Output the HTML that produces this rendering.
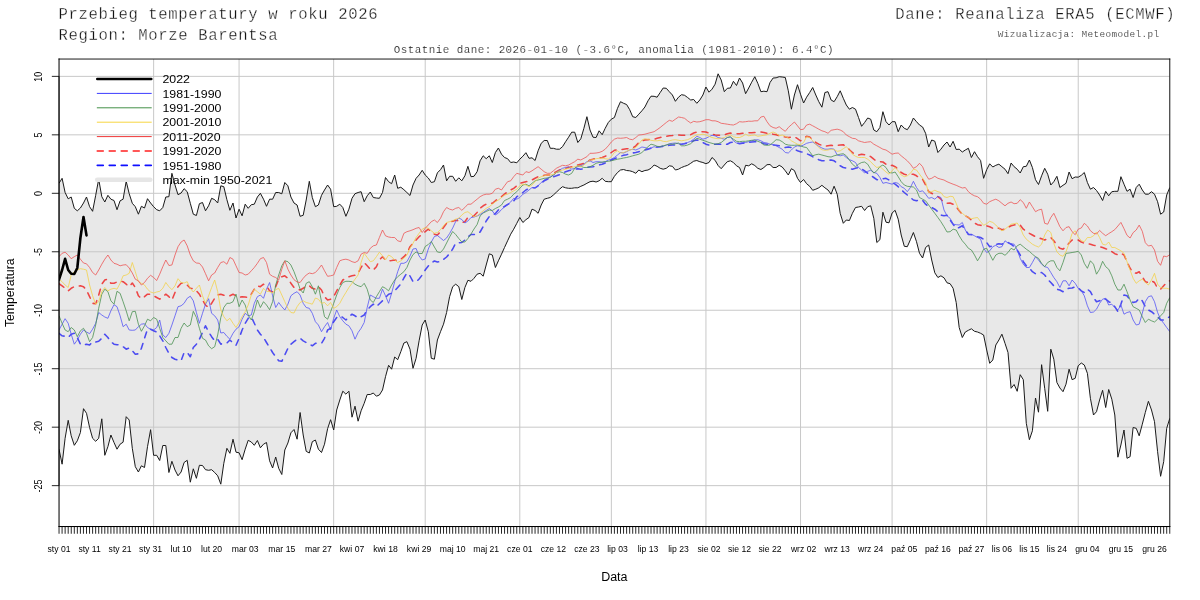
<!DOCTYPE html>
<html lang="pl"><head><meta charset="utf-8"><title>Przebieg temperatury w roku 2026 - Morze Barentsa</title>
<style>
html,body{margin:0;padding:0;background:#fff;}
body{width:1200px;height:600px;overflow:hidden;}
svg{display:block;}
.mono{font-family:"Liberation Mono","DejaVu Sans Mono",monospace;stroke:#fff;stroke-width:0.3px;}
.m2{stroke-width:0.2px;}
.m3{stroke-width:0.12px;}
.sans{font-family:"Liberation Sans","DejaVu Sans",sans-serif;}
</style></head><body>
<svg width="1200" height="600" viewBox="0 0 1200 600">
<rect x="0" y="0" width="1200" height="600" fill="#ffffff"/>
<defs><clipPath id="pc"><rect x="59.04" y="59.04" width="1110.72" height="467.52"/></clipPath></defs>
<g clip-path="url(#pc)">
<polygon points="59.0,183.3 62.1,178.3 65.1,192.5 68.2,198.8 71.2,197.0 74.3,208.3 77.3,210.8 80.4,208.0 83.5,203.0 86.5,197.0 89.6,206.7 92.6,211.3 95.7,195.3 98.7,179.2 101.8,196.7 104.8,202.0 107.9,195.3 110.9,199.2 114.0,200.5 117.0,209.7 120.1,200.8 123.1,199.2 126.2,181.3 129.2,193.7 132.3,203.3 135.3,206.7 138.4,214.2 141.4,206.3 144.5,208.0 147.5,198.7 150.6,203.0 153.6,206.7 156.7,209.7 159.7,210.8 162.8,207.5 165.8,197.0 168.9,196.7 171.9,173.3 175.0,185.0 178.0,194.7 181.1,193.0 184.1,188.7 187.2,191.7 190.3,203.3 193.3,214.2 196.4,215.5 199.4,203.7 202.5,202.5 205.5,210.8 208.6,205.8 211.6,198.3 214.7,199.7 217.7,203.0 220.8,185.8 223.8,186.7 226.9,199.7 229.9,210.3 233.0,203.0 236.0,218.0 239.1,209.2 242.1,215.8 245.2,204.2 248.2,208.3 251.3,204.7 254.3,204.2 257.4,197.0 260.4,193.3 263.5,199.2 266.5,206.3 269.6,199.2 272.6,199.2 275.7,192.5 278.7,192.5 281.8,193.8 284.8,182.5 287.9,185.8 290.9,197.0 294.0,203.0 297.1,205.0 300.1,216.3 303.2,215.3 306.2,200.0 309.3,181.3 312.3,197.5 315.4,206.7 318.4,205.0 321.5,195.3 324.5,190.0 327.6,185.0 330.6,189.2 333.7,206.7 336.7,206.3 339.8,204.2 342.8,207.5 345.9,216.3 348.9,209.2 352.0,198.3 355.0,193.7 358.1,192.5 361.1,191.7 364.2,201.7 367.2,195.8 370.3,192.0 373.3,197.5 376.4,198.0 379.4,198.3 382.5,192.5 385.5,177.5 388.6,181.7 391.6,183.7 394.7,175.0 397.7,188.3 400.8,187.2 403.9,189.7 406.9,192.5 410.0,195.5 413.0,185.0 416.1,178.3 419.1,175.0 422.2,170.3 425.2,175.0 428.3,178.0 431.3,182.5 434.4,181.7 437.4,172.8 440.5,169.7 443.5,165.0 446.6,180.8 449.6,176.3 452.7,176.3 455.7,181.3 458.8,177.8 461.8,180.8 464.9,175.8 467.9,166.3 471.0,176.7 474.0,176.3 477.1,171.7 480.1,160.8 483.2,155.8 486.2,158.7 489.3,155.8 492.3,162.5 495.4,152.5 498.4,148.0 501.5,154.2 504.5,157.5 507.6,158.7 510.7,162.5 513.7,162.0 516.8,162.8 519.8,159.2 522.9,156.2 525.9,152.7 529.0,158.3 532.0,157.8 535.1,160.5 538.1,150.8 541.2,143.3 544.2,140.5 547.3,140.5 550.3,148.3 553.4,148.3 556.4,149.2 559.5,149.2 562.5,146.7 565.6,141.7 568.6,137.2 571.7,132.2 574.7,132.2 577.8,142.5 580.8,138.8 583.9,128.3 586.9,116.7 590.0,130.0 593.0,137.2 596.1,137.5 599.1,130.8 602.2,134.7 605.2,128.3 608.3,122.5 611.3,119.2 614.4,117.5 617.5,108.3 620.5,101.7 623.6,103.3 626.6,104.5 629.7,109.7 632.7,116.7 635.8,117.5 638.8,114.2 641.9,110.8 644.9,107.0 648.0,100.8 651.0,96.2 654.1,96.3 657.1,97.2 660.2,92.5 663.2,88.0 666.3,88.3 669.3,91.7 672.4,95.0 675.4,101.3 678.5,97.2 681.5,94.7 684.6,95.3 687.6,97.5 690.7,100.0 693.7,99.5 696.8,103.3 699.8,100.0 702.9,95.0 705.9,87.0 709.0,92.2 712.0,89.2 715.1,84.2 718.1,73.8 721.2,80.0 724.3,91.7 727.3,88.3 730.4,88.0 733.4,81.3 736.5,85.5 739.5,78.0 742.6,83.0 745.6,93.7 748.7,88.0 751.7,82.2 754.8,76.7 757.8,83.3 760.9,91.7 763.9,91.2 767.0,91.7 770.0,82.5 773.1,78.0 776.1,77.8 779.2,76.7 782.2,77.0 785.3,77.5 788.3,90.8 791.4,109.2 794.4,95.0 797.5,84.7 800.5,94.2 803.6,103.0 806.6,97.2 809.7,92.5 812.7,87.5 815.8,95.0 818.8,101.7 821.9,107.2 824.9,92.5 828.0,91.7 831.1,100.0 834.1,101.7 837.2,96.7 840.2,90.8 843.3,98.3 846.3,105.0 849.4,109.2 852.4,107.5 855.5,109.2 858.5,117.5 861.6,126.3 864.6,122.5 867.7,118.0 870.7,119.2 873.8,130.0 876.8,131.7 879.9,127.5 882.9,111.7 886.0,121.7 889.0,125.0 892.1,121.7 895.1,121.7 898.2,131.7 901.2,125.0 904.3,128.3 907.3,129.7 910.4,125.0 913.4,118.0 916.5,121.7 919.5,125.0 922.6,127.0 925.6,133.3 928.7,147.0 931.7,140.0 934.8,141.2 937.9,152.5 940.9,149.2 944.0,145.0 947.0,142.0 950.1,147.0 953.1,141.3 956.2,149.5 959.2,149.2 962.3,152.0 965.3,150.0 968.4,148.3 971.4,157.5 974.5,151.7 977.5,156.7 980.6,160.5 983.6,178.3 986.7,169.7 989.7,163.8 992.8,167.0 995.8,165.3 998.9,164.2 1001.9,166.7 1005.0,169.2 1008.0,173.7 1011.1,163.0 1014.1,166.7 1017.2,169.2 1020.2,173.0 1023.3,166.7 1026.3,166.3 1029.4,160.0 1032.4,167.5 1035.5,179.7 1038.5,184.5 1041.6,175.8 1044.7,168.3 1047.7,174.2 1050.8,185.0 1053.8,181.7 1056.9,176.3 1059.9,187.5 1063.0,185.3 1066.0,183.3 1069.1,172.0 1072.1,178.7 1075.2,177.0 1078.2,177.2 1081.3,175.3 1084.3,172.5 1087.4,182.5 1090.4,189.2 1093.5,187.5 1096.5,190.5 1099.6,195.0 1102.6,200.5 1105.7,191.3 1108.7,195.8 1111.8,191.7 1114.8,191.3 1117.9,191.3 1120.9,176.7 1124.0,184.2 1127.0,191.3 1130.1,189.2 1133.1,197.5 1136.2,187.5 1139.2,184.2 1142.3,190.0 1145.3,194.2 1148.4,194.2 1151.5,191.7 1154.5,194.2 1157.6,201.7 1160.6,214.2 1163.7,212.0 1166.7,195.0 1169.8,187.5 1169.8,418.3 1166.7,428.3 1163.7,461.7 1160.6,476.3 1157.6,451.7 1154.5,421.7 1151.5,410.0 1148.4,401.3 1145.3,412.5 1142.3,424.2 1139.2,435.8 1136.2,428.3 1133.1,427.5 1130.1,456.7 1127.0,458.3 1124.0,430.0 1120.9,445.0 1117.9,457.2 1114.8,415.0 1111.8,399.2 1108.7,389.5 1105.7,407.5 1102.6,390.3 1099.6,400.0 1096.5,411.7 1093.5,415.0 1090.4,398.3 1087.4,373.3 1084.3,365.0 1081.3,363.0 1078.2,365.8 1075.2,378.3 1072.1,379.7 1069.1,369.2 1066.0,384.2 1063.0,391.7 1059.9,388.0 1056.9,382.5 1053.8,359.2 1050.8,349.2 1047.7,411.3 1044.7,388.3 1041.6,364.7 1038.5,412.2 1035.5,398.0 1032.4,430.8 1029.4,439.7 1026.3,423.3 1023.3,379.7 1020.2,374.7 1017.2,391.3 1014.1,384.5 1011.1,388.3 1008.0,352.5 1005.0,343.3 1001.9,334.2 998.9,340.0 995.8,345.0 992.8,360.0 989.7,363.3 986.7,350.0 983.6,335.0 980.6,333.3 977.5,332.0 974.5,331.3 971.4,328.8 968.4,330.3 965.3,332.0 962.3,337.5 959.2,327.5 956.2,302.5 953.1,288.3 950.1,283.7 947.0,282.8 944.0,277.8 940.9,275.8 937.9,277.5 934.8,272.8 931.7,260.0 928.7,245.0 925.6,247.5 922.6,258.0 919.5,253.3 916.5,241.7 913.4,232.5 910.4,239.7 907.3,246.7 904.3,246.3 901.2,235.0 898.2,219.2 895.1,210.3 892.1,213.0 889.0,222.8 886.0,222.2 882.9,212.2 879.9,239.7 876.8,242.5 873.8,218.3 870.7,205.8 867.7,206.7 864.6,210.5 861.6,206.3 858.5,207.0 855.5,207.5 852.4,213.3 849.4,220.5 846.3,220.0 843.3,223.3 840.2,213.3 837.2,194.2 834.1,186.2 831.1,194.2 828.0,190.0 824.9,187.8 821.9,185.3 818.8,187.8 815.8,189.2 812.7,190.3 809.7,186.3 806.6,183.7 803.6,179.5 800.5,182.5 797.5,178.3 794.4,170.5 791.4,168.7 788.3,175.0 785.3,170.8 782.2,167.0 779.2,165.3 776.1,167.5 773.1,167.5 770.0,164.5 767.0,164.7 763.9,167.5 760.9,169.5 757.8,168.3 754.8,165.5 751.7,163.8 748.7,165.8 745.6,165.3 742.6,175.0 739.5,167.5 736.5,165.8 733.4,162.5 730.4,160.8 727.3,161.7 724.3,165.0 721.2,168.7 718.1,165.5 715.1,160.3 712.0,157.5 709.0,162.5 705.9,163.7 702.9,162.5 699.8,161.7 696.8,160.5 693.7,161.2 690.7,163.3 687.6,165.3 684.6,166.3 681.5,167.5 678.5,169.2 675.4,170.0 672.4,166.3 669.3,165.8 666.3,168.3 663.2,169.2 660.2,168.3 657.1,166.3 654.1,165.0 651.0,168.3 648.0,170.0 644.9,170.5 641.9,171.7 638.8,170.0 635.8,173.3 632.7,171.7 629.7,170.8 626.6,170.5 623.6,169.5 620.5,170.0 617.5,172.5 614.4,176.3 611.3,181.7 608.3,181.7 605.2,181.3 602.2,178.3 599.1,180.8 596.1,182.0 593.0,181.2 590.0,181.7 586.9,183.3 583.9,185.0 580.8,186.3 577.8,187.8 574.7,187.8 571.7,188.3 568.6,188.3 565.6,187.8 562.5,186.7 559.5,189.2 556.4,192.2 553.4,195.0 550.3,197.5 547.3,198.3 544.2,199.2 541.2,205.0 538.1,213.3 535.1,210.5 532.0,209.2 529.0,217.5 525.9,219.7 522.9,222.5 519.8,217.5 516.8,223.3 513.7,229.2 510.7,234.2 507.6,240.8 504.5,247.5 501.5,254.2 498.4,260.8 495.4,267.5 492.3,255.0 489.3,253.8 486.2,265.0 483.2,276.2 480.1,273.3 477.1,274.2 474.0,278.3 471.0,281.3 467.9,280.3 464.9,287.5 461.8,299.5 458.8,286.7 455.7,284.2 452.7,286.7 449.6,296.7 446.6,312.5 443.5,324.2 440.5,331.7 437.4,340.0 434.4,359.2 431.3,358.3 428.3,331.7 425.2,320.0 422.2,325.0 419.1,340.8 416.1,358.3 413.0,368.3 410.0,349.2 406.9,341.7 403.9,343.0 400.8,351.7 397.7,359.7 394.7,357.0 391.6,369.2 388.6,365.3 385.5,376.7 382.5,390.0 379.4,395.0 376.4,396.2 373.3,393.0 370.3,394.5 367.2,394.5 364.2,403.3 361.1,410.8 358.1,421.2 355.0,406.2 352.0,417.2 348.9,391.2 345.9,394.2 342.8,391.2 339.8,400.0 336.7,410.0 333.7,430.0 330.6,419.7 327.6,428.7 324.5,444.2 321.5,452.5 318.4,449.2 315.4,440.0 312.3,441.7 309.3,453.0 306.2,451.3 303.2,435.0 300.1,412.5 297.1,439.2 294.0,429.5 290.9,432.8 287.9,443.0 284.8,450.0 281.8,474.5 278.7,468.3 275.7,457.0 272.6,468.0 269.6,460.8 266.5,442.5 263.5,444.2 260.4,447.8 257.4,440.5 254.3,445.3 251.3,442.0 248.2,440.3 245.2,449.2 242.1,459.7 239.1,452.8 236.0,452.2 233.0,439.2 229.9,453.3 226.9,448.3 223.8,463.3 220.8,484.2 217.7,475.8 214.7,472.5 211.6,469.7 208.6,470.3 205.5,469.7 202.5,465.5 199.4,465.3 196.4,478.3 193.3,468.8 190.3,482.2 187.2,460.3 184.1,462.5 181.1,472.0 178.0,475.8 175.0,470.0 171.9,461.3 168.9,472.5 165.8,445.5 162.8,445.5 159.7,460.5 156.7,455.3 153.6,455.3 150.6,429.7 147.5,446.7 144.5,467.5 141.4,465.8 138.4,472.0 135.3,466.7 132.3,448.3 129.2,420.0 126.2,416.7 123.1,442.2 120.1,444.2 117.0,449.2 114.0,442.5 110.9,435.0 107.9,446.7 104.8,455.3 101.8,418.8 98.7,438.3 95.7,441.3 92.6,438.3 89.6,427.5 86.5,413.3 83.5,408.7 80.4,432.5 77.3,440.8 74.3,445.3 71.2,435.8 68.2,420.3 65.1,438.3 62.1,464.2 59.0,449.2" fill="#e8e8e8" stroke="none"/>
<g stroke="#c8c8c8" stroke-width="1" fill="none"><line x1="153.63" y1="59.04" x2="153.63" y2="526.56"/><line x1="239.07" y1="59.04" x2="239.07" y2="526.56"/><line x1="333.67" y1="59.04" x2="333.67" y2="526.56"/><line x1="425.21" y1="59.04" x2="425.21" y2="526.56"/><line x1="519.81" y1="59.04" x2="519.81" y2="526.56"/><line x1="611.35" y1="59.04" x2="611.35" y2="526.56"/><line x1="705.94" y1="59.04" x2="705.94" y2="526.56"/><line x1="800.54" y1="59.04" x2="800.54" y2="526.56"/><line x1="892.08" y1="59.04" x2="892.08" y2="526.56"/><line x1="986.67" y1="59.04" x2="986.67" y2="526.56"/><line x1="1078.22" y1="59.04" x2="1078.22" y2="526.56"/><line x1="59.04" y1="485.65" x2="1169.76" y2="485.65"/><line x1="59.04" y1="427.18" x2="1169.76" y2="427.18"/><line x1="59.04" y1="368.71" x2="1169.76" y2="368.71"/><line x1="59.04" y1="310.24" x2="1169.76" y2="310.24"/><line x1="59.04" y1="251.77" x2="1169.76" y2="251.77"/><line x1="59.04" y1="193.30" x2="1169.76" y2="193.30"/><line x1="59.04" y1="134.83" x2="1169.76" y2="134.83"/><line x1="59.04" y1="76.36" x2="1169.76" y2="76.36"/></g>
<path d="M59.0 183.3 L62.1 178.3 L65.1 192.5 L68.2 198.8 L71.2 197.0 L74.3 208.3 L77.3 210.8 L80.4 208.0 L83.5 203.0 L86.5 197.0 L89.6 206.7 L92.6 211.3 L95.7 195.3 L98.7 179.2 L101.8 196.7 L104.8 202.0 L107.9 195.3 L110.9 199.2 L114.0 200.5 L117.0 209.7 L120.1 200.8 L123.1 199.2 L126.2 181.3 L129.2 193.7 L132.3 203.3 L135.3 206.7 L138.4 214.2 L141.4 206.3 L144.5 208.0 L147.5 198.7 L150.6 203.0 L153.6 206.7 L156.7 209.7 L159.7 210.8 L162.8 207.5 L165.8 197.0 L168.9 196.7 L171.9 173.3 L175.0 185.0 L178.0 194.7 L181.1 193.0 L184.1 188.7 L187.2 191.7 L190.3 203.3 L193.3 214.2 L196.4 215.5 L199.4 203.7 L202.5 202.5 L205.5 210.8 L208.6 205.8 L211.6 198.3 L214.7 199.7 L217.7 203.0 L220.8 185.8 L223.8 186.7 L226.9 199.7 L229.9 210.3 L233.0 203.0 L236.0 218.0 L239.1 209.2 L242.1 215.8 L245.2 204.2 L248.2 208.3 L251.3 204.7 L254.3 204.2 L257.4 197.0 L260.4 193.3 L263.5 199.2 L266.5 206.3 L269.6 199.2 L272.6 199.2 L275.7 192.5 L278.7 192.5 L281.8 193.8 L284.8 182.5 L287.9 185.8 L290.9 197.0 L294.0 203.0 L297.1 205.0 L300.1 216.3 L303.2 215.3 L306.2 200.0 L309.3 181.3 L312.3 197.5 L315.4 206.7 L318.4 205.0 L321.5 195.3 L324.5 190.0 L327.6 185.0 L330.6 189.2 L333.7 206.7 L336.7 206.3 L339.8 204.2 L342.8 207.5 L345.9 216.3 L348.9 209.2 L352.0 198.3 L355.0 193.7 L358.1 192.5 L361.1 191.7 L364.2 201.7 L367.2 195.8 L370.3 192.0 L373.3 197.5 L376.4 198.0 L379.4 198.3 L382.5 192.5 L385.5 177.5 L388.6 181.7 L391.6 183.7 L394.7 175.0 L397.7 188.3 L400.8 187.2 L403.9 189.7 L406.9 192.5 L410.0 195.5 L413.0 185.0 L416.1 178.3 L419.1 175.0 L422.2 170.3 L425.2 175.0 L428.3 178.0 L431.3 182.5 L434.4 181.7 L437.4 172.8 L440.5 169.7 L443.5 165.0 L446.6 180.8 L449.6 176.3 L452.7 176.3 L455.7 181.3 L458.8 177.8 L461.8 180.8 L464.9 175.8 L467.9 166.3 L471.0 176.7 L474.0 176.3 L477.1 171.7 L480.1 160.8 L483.2 155.8 L486.2 158.7 L489.3 155.8 L492.3 162.5 L495.4 152.5 L498.4 148.0 L501.5 154.2 L504.5 157.5 L507.6 158.7 L510.7 162.5 L513.7 162.0 L516.8 162.8 L519.8 159.2 L522.9 156.2 L525.9 152.7 L529.0 158.3 L532.0 157.8 L535.1 160.5 L538.1 150.8 L541.2 143.3 L544.2 140.5 L547.3 140.5 L550.3 148.3 L553.4 148.3 L556.4 149.2 L559.5 149.2 L562.5 146.7 L565.6 141.7 L568.6 137.2 L571.7 132.2 L574.7 132.2 L577.8 142.5 L580.8 138.8 L583.9 128.3 L586.9 116.7 L590.0 130.0 L593.0 137.2 L596.1 137.5 L599.1 130.8 L602.2 134.7 L605.2 128.3 L608.3 122.5 L611.3 119.2 L614.4 117.5 L617.5 108.3 L620.5 101.7 L623.6 103.3 L626.6 104.5 L629.7 109.7 L632.7 116.7 L635.8 117.5 L638.8 114.2 L641.9 110.8 L644.9 107.0 L648.0 100.8 L651.0 96.2 L654.1 96.3 L657.1 97.2 L660.2 92.5 L663.2 88.0 L666.3 88.3 L669.3 91.7 L672.4 95.0 L675.4 101.3 L678.5 97.2 L681.5 94.7 L684.6 95.3 L687.6 97.5 L690.7 100.0 L693.7 99.5 L696.8 103.3 L699.8 100.0 L702.9 95.0 L705.9 87.0 L709.0 92.2 L712.0 89.2 L715.1 84.2 L718.1 73.8 L721.2 80.0 L724.3 91.7 L727.3 88.3 L730.4 88.0 L733.4 81.3 L736.5 85.5 L739.5 78.0 L742.6 83.0 L745.6 93.7 L748.7 88.0 L751.7 82.2 L754.8 76.7 L757.8 83.3 L760.9 91.7 L763.9 91.2 L767.0 91.7 L770.0 82.5 L773.1 78.0 L776.1 77.8 L779.2 76.7 L782.2 77.0 L785.3 77.5 L788.3 90.8 L791.4 109.2 L794.4 95.0 L797.5 84.7 L800.5 94.2 L803.6 103.0 L806.6 97.2 L809.7 92.5 L812.7 87.5 L815.8 95.0 L818.8 101.7 L821.9 107.2 L824.9 92.5 L828.0 91.7 L831.1 100.0 L834.1 101.7 L837.2 96.7 L840.2 90.8 L843.3 98.3 L846.3 105.0 L849.4 109.2 L852.4 107.5 L855.5 109.2 L858.5 117.5 L861.6 126.3 L864.6 122.5 L867.7 118.0 L870.7 119.2 L873.8 130.0 L876.8 131.7 L879.9 127.5 L882.9 111.7 L886.0 121.7 L889.0 125.0 L892.1 121.7 L895.1 121.7 L898.2 131.7 L901.2 125.0 L904.3 128.3 L907.3 129.7 L910.4 125.0 L913.4 118.0 L916.5 121.7 L919.5 125.0 L922.6 127.0 L925.6 133.3 L928.7 147.0 L931.7 140.0 L934.8 141.2 L937.9 152.5 L940.9 149.2 L944.0 145.0 L947.0 142.0 L950.1 147.0 L953.1 141.3 L956.2 149.5 L959.2 149.2 L962.3 152.0 L965.3 150.0 L968.4 148.3 L971.4 157.5 L974.5 151.7 L977.5 156.7 L980.6 160.5 L983.6 178.3 L986.7 169.7 L989.7 163.8 L992.8 167.0 L995.8 165.3 L998.9 164.2 L1001.9 166.7 L1005.0 169.2 L1008.0 173.7 L1011.1 163.0 L1014.1 166.7 L1017.2 169.2 L1020.2 173.0 L1023.3 166.7 L1026.3 166.3 L1029.4 160.0 L1032.4 167.5 L1035.5 179.7 L1038.5 184.5 L1041.6 175.8 L1044.7 168.3 L1047.7 174.2 L1050.8 185.0 L1053.8 181.7 L1056.9 176.3 L1059.9 187.5 L1063.0 185.3 L1066.0 183.3 L1069.1 172.0 L1072.1 178.7 L1075.2 177.0 L1078.2 177.2 L1081.3 175.3 L1084.3 172.5 L1087.4 182.5 L1090.4 189.2 L1093.5 187.5 L1096.5 190.5 L1099.6 195.0 L1102.6 200.5 L1105.7 191.3 L1108.7 195.8 L1111.8 191.7 L1114.8 191.3 L1117.9 191.3 L1120.9 176.7 L1124.0 184.2 L1127.0 191.3 L1130.1 189.2 L1133.1 197.5 L1136.2 187.5 L1139.2 184.2 L1142.3 190.0 L1145.3 194.2 L1148.4 194.2 L1151.5 191.7 L1154.5 194.2 L1157.6 201.7 L1160.6 214.2 L1163.7 212.0 L1166.7 195.0 L1169.8 187.5" fill="none" stroke="#1a1a1a" stroke-width="1" stroke-linejoin="round"/>
<path d="M59.0 449.2 L62.1 464.2 L65.1 438.3 L68.2 420.3 L71.2 435.8 L74.3 445.3 L77.3 440.8 L80.4 432.5 L83.5 408.7 L86.5 413.3 L89.6 427.5 L92.6 438.3 L95.7 441.3 L98.7 438.3 L101.8 418.8 L104.8 455.3 L107.9 446.7 L110.9 435.0 L114.0 442.5 L117.0 449.2 L120.1 444.2 L123.1 442.2 L126.2 416.7 L129.2 420.0 L132.3 448.3 L135.3 466.7 L138.4 472.0 L141.4 465.8 L144.5 467.5 L147.5 446.7 L150.6 429.7 L153.6 455.3 L156.7 455.3 L159.7 460.5 L162.8 445.5 L165.8 445.5 L168.9 472.5 L171.9 461.3 L175.0 470.0 L178.0 475.8 L181.1 472.0 L184.1 462.5 L187.2 460.3 L190.3 482.2 L193.3 468.8 L196.4 478.3 L199.4 465.3 L202.5 465.5 L205.5 469.7 L208.6 470.3 L211.6 469.7 L214.7 472.5 L217.7 475.8 L220.8 484.2 L223.8 463.3 L226.9 448.3 L229.9 453.3 L233.0 439.2 L236.0 452.2 L239.1 452.8 L242.1 459.7 L245.2 449.2 L248.2 440.3 L251.3 442.0 L254.3 445.3 L257.4 440.5 L260.4 447.8 L263.5 444.2 L266.5 442.5 L269.6 460.8 L272.6 468.0 L275.7 457.0 L278.7 468.3 L281.8 474.5 L284.8 450.0 L287.9 443.0 L290.9 432.8 L294.0 429.5 L297.1 439.2 L300.1 412.5 L303.2 435.0 L306.2 451.3 L309.3 453.0 L312.3 441.7 L315.4 440.0 L318.4 449.2 L321.5 452.5 L324.5 444.2 L327.6 428.7 L330.6 419.7 L333.7 430.0 L336.7 410.0 L339.8 400.0 L342.8 391.2 L345.9 394.2 L348.9 391.2 L352.0 417.2 L355.0 406.2 L358.1 421.2 L361.1 410.8 L364.2 403.3 L367.2 394.5 L370.3 394.5 L373.3 393.0 L376.4 396.2 L379.4 395.0 L382.5 390.0 L385.5 376.7 L388.6 365.3 L391.6 369.2 L394.7 357.0 L397.7 359.7 L400.8 351.7 L403.9 343.0 L406.9 341.7 L410.0 349.2 L413.0 368.3 L416.1 358.3 L419.1 340.8 L422.2 325.0 L425.2 320.0 L428.3 331.7 L431.3 358.3 L434.4 359.2 L437.4 340.0 L440.5 331.7 L443.5 324.2 L446.6 312.5 L449.6 296.7 L452.7 286.7 L455.7 284.2 L458.8 286.7 L461.8 299.5 L464.9 287.5 L467.9 280.3 L471.0 281.3 L474.0 278.3 L477.1 274.2 L480.1 273.3 L483.2 276.2 L486.2 265.0 L489.3 253.8 L492.3 255.0 L495.4 267.5 L498.4 260.8 L501.5 254.2 L504.5 247.5 L507.6 240.8 L510.7 234.2 L513.7 229.2 L516.8 223.3 L519.8 217.5 L522.9 222.5 L525.9 219.7 L529.0 217.5 L532.0 209.2 L535.1 210.5 L538.1 213.3 L541.2 205.0 L544.2 199.2 L547.3 198.3 L550.3 197.5 L553.4 195.0 L556.4 192.2 L559.5 189.2 L562.5 186.7 L565.6 187.8 L568.6 188.3 L571.7 188.3 L574.7 187.8 L577.8 187.8 L580.8 186.3 L583.9 185.0 L586.9 183.3 L590.0 181.7 L593.0 181.2 L596.1 182.0 L599.1 180.8 L602.2 178.3 L605.2 181.3 L608.3 181.7 L611.3 181.7 L614.4 176.3 L617.5 172.5 L620.5 170.0 L623.6 169.5 L626.6 170.5 L629.7 170.8 L632.7 171.7 L635.8 173.3 L638.8 170.0 L641.9 171.7 L644.9 170.5 L648.0 170.0 L651.0 168.3 L654.1 165.0 L657.1 166.3 L660.2 168.3 L663.2 169.2 L666.3 168.3 L669.3 165.8 L672.4 166.3 L675.4 170.0 L678.5 169.2 L681.5 167.5 L684.6 166.3 L687.6 165.3 L690.7 163.3 L693.7 161.2 L696.8 160.5 L699.8 161.7 L702.9 162.5 L705.9 163.7 L709.0 162.5 L712.0 157.5 L715.1 160.3 L718.1 165.5 L721.2 168.7 L724.3 165.0 L727.3 161.7 L730.4 160.8 L733.4 162.5 L736.5 165.8 L739.5 167.5 L742.6 175.0 L745.6 165.3 L748.7 165.8 L751.7 163.8 L754.8 165.5 L757.8 168.3 L760.9 169.5 L763.9 167.5 L767.0 164.7 L770.0 164.5 L773.1 167.5 L776.1 167.5 L779.2 165.3 L782.2 167.0 L785.3 170.8 L788.3 175.0 L791.4 168.7 L794.4 170.5 L797.5 178.3 L800.5 182.5 L803.6 179.5 L806.6 183.7 L809.7 186.3 L812.7 190.3 L815.8 189.2 L818.8 187.8 L821.9 185.3 L824.9 187.8 L828.0 190.0 L831.1 194.2 L834.1 186.2 L837.2 194.2 L840.2 213.3 L843.3 223.3 L846.3 220.0 L849.4 220.5 L852.4 213.3 L855.5 207.5 L858.5 207.0 L861.6 206.3 L864.6 210.5 L867.7 206.7 L870.7 205.8 L873.8 218.3 L876.8 242.5 L879.9 239.7 L882.9 212.2 L886.0 222.2 L889.0 222.8 L892.1 213.0 L895.1 210.3 L898.2 219.2 L901.2 235.0 L904.3 246.3 L907.3 246.7 L910.4 239.7 L913.4 232.5 L916.5 241.7 L919.5 253.3 L922.6 258.0 L925.6 247.5 L928.7 245.0 L931.7 260.0 L934.8 272.8 L937.9 277.5 L940.9 275.8 L944.0 277.8 L947.0 282.8 L950.1 283.7 L953.1 288.3 L956.2 302.5 L959.2 327.5 L962.3 337.5 L965.3 332.0 L968.4 330.3 L971.4 328.8 L974.5 331.3 L977.5 332.0 L980.6 333.3 L983.6 335.0 L986.7 350.0 L989.7 363.3 L992.8 360.0 L995.8 345.0 L998.9 340.0 L1001.9 334.2 L1005.0 343.3 L1008.0 352.5 L1011.1 388.3 L1014.1 384.5 L1017.2 391.3 L1020.2 374.7 L1023.3 379.7 L1026.3 423.3 L1029.4 439.7 L1032.4 430.8 L1035.5 398.0 L1038.5 412.2 L1041.6 364.7 L1044.7 388.3 L1047.7 411.3 L1050.8 349.2 L1053.8 359.2 L1056.9 382.5 L1059.9 388.0 L1063.0 391.7 L1066.0 384.2 L1069.1 369.2 L1072.1 379.7 L1075.2 378.3 L1078.2 365.8 L1081.3 363.0 L1084.3 365.0 L1087.4 373.3 L1090.4 398.3 L1093.5 415.0 L1096.5 411.7 L1099.6 400.0 L1102.6 390.3 L1105.7 407.5 L1108.7 389.5 L1111.8 399.2 L1114.8 415.0 L1117.9 457.2 L1120.9 445.0 L1124.0 430.0 L1127.0 458.3 L1130.1 456.7 L1133.1 427.5 L1136.2 428.3 L1139.2 435.8 L1142.3 424.2 L1145.3 412.5 L1148.4 401.3 L1151.5 410.0 L1154.5 421.7 L1157.6 451.7 L1160.6 476.3 L1163.7 461.7 L1166.7 428.3 L1169.8 418.3" fill="none" stroke="#1a1a1a" stroke-width="1" stroke-linejoin="round"/>
<path d="M59.0 333.3 L62.1 335.8 L65.1 336.3 L68.2 337.5 L71.2 334.2 L74.3 333.3 L77.3 337.5 L80.4 344.2 L83.5 345.3 L86.5 344.2 L89.6 345.0 L92.6 341.7 L95.7 342.0 L98.7 341.3 L101.8 338.3 L104.8 334.2 L107.9 337.5 L110.9 341.7 L114.0 344.2 L117.0 344.7 L120.1 345.0 L123.1 346.7 L126.2 349.2 L129.2 348.0 L132.3 350.8 L135.3 354.2 L138.4 353.8 L141.4 348.3 L144.5 338.3 L147.5 329.2 L150.6 329.2 L153.6 330.8 L156.7 332.0 L159.7 335.8 L162.8 340.8 L165.8 347.5 L168.9 353.3 L171.9 357.5 L175.0 359.2 L178.0 360.0 L181.1 360.8 L184.1 352.5 L187.2 352.5 L190.3 356.7 L193.3 347.5 L196.4 344.2 L199.4 339.2 L202.5 332.5 L205.5 325.8 L208.6 331.7 L211.6 336.7 L214.7 340.8 L217.7 339.2 L220.8 344.2 L223.8 343.0 L226.9 343.0 L229.9 340.0 L233.0 343.0 L236.0 345.3 L239.1 338.3 L242.1 330.0 L245.2 323.3 L248.2 318.3 L251.3 316.7 L254.3 323.3 L257.4 330.0 L260.4 334.2 L263.5 337.5 L266.5 342.5 L269.6 347.5 L272.6 352.5 L275.7 356.7 L278.7 360.8 L281.8 361.3 L284.8 355.0 L287.9 348.3 L290.9 344.2 L294.0 341.7 L297.1 339.2 L300.1 338.3 L303.2 340.8 L306.2 342.5 L309.3 344.2 L312.3 345.8 L315.4 343.3 L318.4 343.3 L321.5 343.3 L324.5 338.3 L327.6 330.0 L330.6 328.3 L333.7 321.7 L336.7 317.5 L339.8 315.8 L342.8 317.5 L345.9 320.0 L348.9 316.7 L352.0 314.2 L355.0 315.8 L358.1 318.0 L361.1 316.7 L364.2 315.0 L367.2 310.0 L370.3 306.7 L373.3 304.2 L376.4 306.7 L379.4 303.7 L382.5 300.8 L385.5 297.5 L388.6 294.2 L391.6 293.3 L394.7 290.8 L397.7 287.5 L400.8 284.0 L403.9 278.0 L406.9 273.0 L410.0 276.0 L413.0 281.5 L416.1 281.8 L419.1 279.0 L422.2 275.0 L425.2 270.0 L428.3 266.0 L431.3 263.0 L434.4 261.0 L437.4 262.0 L440.5 261.5 L443.5 259.5 L446.6 257.0 L449.6 253.5 L452.7 249.0 L455.7 243.0 L458.8 242.8 L461.8 242.5 L464.9 240.0 L467.9 237.0 L471.0 234.5 L474.0 234.5 L477.1 234.0 L480.1 232.0 L483.2 226.5 L486.2 221.0 L489.3 216.5 L492.3 215.5 L495.4 213.5 L498.4 210.0 L501.5 208.0 L504.5 206.5 L507.6 204.5 L510.7 203.0 L513.7 201.0 L516.8 196.7 L519.8 195.0 L522.9 192.5 L525.9 190.0 L529.0 188.3 L532.0 187.5 L535.1 188.0 L538.1 185.8 L541.2 183.3 L544.2 180.8 L547.3 179.2 L550.3 178.0 L553.4 176.7 L556.4 175.8 L559.5 174.7 L562.5 173.3 L565.6 171.7 L568.6 170.8 L571.7 170.0 L574.7 169.2 L577.8 168.7 L580.8 169.2 L583.9 168.7 L586.9 167.5 L590.0 167.0 L593.0 166.7 L596.1 165.8 L599.1 165.0 L602.2 164.2 L605.2 163.0 L608.3 161.7 L611.3 160.0 L614.4 158.7 L617.5 157.5 L620.5 156.3 L623.6 155.3 L626.6 154.7 L629.7 153.7 L632.7 153.0 L635.8 152.5 L638.8 151.7 L641.9 150.8 L644.9 150.0 L648.0 149.2 L651.0 148.3 L654.1 147.5 L657.1 147.0 L660.2 146.7 L663.2 146.3 L666.3 145.8 L669.3 145.3 L672.4 145.0 L675.4 145.0 L678.5 144.7 L681.5 144.2 L684.6 143.7 L687.6 143.0 L690.7 142.0 L693.7 140.8 L696.8 140.0 L699.8 140.8 L702.9 142.5 L705.9 144.2 L709.0 145.0 L712.0 144.7 L715.1 144.2 L718.1 144.2 L721.2 144.2 L724.3 144.7 L727.3 144.2 L730.4 142.5 L733.4 142.0 L736.5 143.0 L739.5 143.7 L742.6 143.3 L745.6 143.0 L748.7 142.5 L751.7 142.0 L754.8 141.7 L757.8 141.7 L760.9 142.5 L763.9 143.7 L767.0 144.2 L770.0 144.7 L773.1 145.0 L776.1 145.3 L779.2 145.8 L782.2 146.7 L785.3 147.5 L788.3 147.0 L791.4 147.5 L794.4 149.2 L797.5 150.8 L800.5 151.7 L803.6 152.5 L806.6 153.7 L809.7 155.0 L812.7 156.7 L815.8 158.3 L818.8 159.7 L821.9 160.8 L824.9 160.8 L828.0 160.3 L831.1 160.0 L834.1 160.8 L837.2 163.3 L840.2 165.8 L843.3 167.5 L846.3 168.0 L849.4 168.3 L852.4 169.2 L855.5 168.3 L858.5 167.5 L861.6 168.7 L864.6 170.8 L867.7 173.3 L870.7 175.3 L873.8 177.5 L876.8 179.7 L879.9 180.0 L882.9 178.7 L886.0 178.3 L889.0 180.0 L892.1 182.5 L895.1 184.2 L898.2 186.7 L901.2 189.7 L904.3 192.5 L907.3 195.0 L910.4 197.5 L913.4 200.0 L916.5 200.8 L919.5 199.7 L922.6 200.3 L925.6 204.2 L928.7 206.7 L931.7 207.5 L934.8 209.2 L937.9 211.7 L940.9 215.0 L944.0 215.8 L947.0 215.3 L950.1 220.0 L953.1 224.2 L956.2 228.3 L959.2 227.5 L962.3 225.8 L965.3 230.0 L968.4 234.2 L971.4 234.7 L974.5 235.8 L977.5 236.7 L980.6 237.5 L983.6 239.2 L986.7 242.5 L989.7 246.7 L992.8 245.8 L995.8 244.7 L998.9 243.7 L1001.9 244.2 L1005.0 242.5 L1008.0 242.5 L1011.1 244.2 L1014.1 246.7 L1017.2 250.0 L1020.2 255.0 L1023.3 261.7 L1026.3 265.8 L1029.4 268.0 L1032.4 271.7 L1035.5 273.7 L1038.5 273.3 L1041.6 272.5 L1044.7 275.0 L1047.7 279.2 L1050.8 282.5 L1053.8 285.8 L1056.9 289.2 L1059.9 290.0 L1063.0 291.7 L1066.0 289.2 L1069.1 288.3 L1072.1 288.0 L1075.2 286.7 L1078.2 288.0 L1081.3 290.8 L1084.3 292.5 L1087.4 289.2 L1090.4 291.7 L1093.5 297.5 L1096.5 301.7 L1099.6 300.8 L1102.6 298.3 L1105.7 299.2 L1108.7 301.7 L1111.8 303.3 L1114.8 306.7 L1117.9 311.7 L1120.9 304.2 L1124.0 295.0 L1127.0 295.8 L1130.1 300.0 L1133.1 302.5 L1136.2 301.7 L1139.2 298.3 L1142.3 300.8 L1145.3 306.7 L1148.4 310.0 L1151.5 311.7 L1154.5 314.2 L1157.6 316.7 L1160.6 320.0 L1163.7 320.0 L1166.7 318.3 L1169.8 316.7" fill="none" stroke="#0000f5" stroke-width="1.55" stroke-linejoin="round" stroke-linecap="round" stroke-dasharray="6 6" stroke-opacity="0.68"/>
<path d="M59.0 283.7 L62.1 285.8 L65.1 288.3 L68.2 290.8 L71.2 288.3 L74.3 286.7 L77.3 286.2 L80.4 285.8 L83.5 286.7 L86.5 290.0 L89.6 296.7 L92.6 303.3 L95.7 303.8 L98.7 295.0 L101.8 284.2 L104.8 280.0 L107.9 279.2 L110.9 283.3 L114.0 283.3 L117.0 282.0 L120.1 281.3 L123.1 281.7 L126.2 284.2 L129.2 286.7 L132.3 283.0 L135.3 287.5 L138.4 295.8 L141.4 298.7 L144.5 296.7 L147.5 294.2 L150.6 294.2 L153.6 295.8 L156.7 297.5 L159.7 299.2 L162.8 296.7 L165.8 294.2 L168.9 296.7 L171.9 300.0 L175.0 292.5 L178.0 286.7 L181.1 283.3 L184.1 283.0 L187.2 285.0 L190.3 288.3 L193.3 288.7 L196.4 290.8 L199.4 294.2 L202.5 300.0 L205.5 305.0 L208.6 307.5 L211.6 303.3 L214.7 298.3 L217.7 295.0 L220.8 294.2 L223.8 295.3 L226.9 295.8 L229.9 295.8 L233.0 294.2 L236.0 295.8 L239.1 297.5 L242.1 296.7 L245.2 297.0 L248.2 297.5 L251.3 294.2 L254.3 289.2 L257.4 285.8 L260.4 286.7 L263.5 284.2 L266.5 285.8 L269.6 290.8 L272.6 291.7 L275.7 286.7 L278.7 279.2 L281.8 276.7 L284.8 275.8 L287.9 278.3 L290.9 283.3 L294.0 287.5 L297.1 289.2 L300.1 290.0 L303.2 288.3 L306.2 285.8 L309.3 285.8 L312.3 288.3 L315.4 289.2 L318.4 286.7 L321.5 290.0 L324.5 296.7 L327.6 300.0 L330.6 299.2 L333.7 296.7 L336.7 290.8 L339.8 285.0 L342.8 280.0 L345.9 278.3 L348.9 276.7 L352.0 275.8 L355.0 275.3 L358.1 273.3 L361.1 267.5 L364.2 262.5 L367.2 265.8 L370.3 269.2 L373.3 270.0 L376.4 266.7 L379.4 260.0 L382.5 256.7 L385.5 260.0 L388.6 260.8 L391.6 260.5 L394.7 260.0 L397.7 260.8 L400.8 259.2 L403.9 256.7 L406.9 253.3 L410.0 246.7 L413.0 243.3 L416.1 240.0 L419.1 236.7 L422.2 234.2 L425.2 231.7 L428.3 229.2 L431.3 231.7 L434.4 234.2 L437.4 235.0 L440.5 231.7 L443.5 227.5 L446.6 223.3 L449.6 221.7 L452.7 221.3 L455.7 220.3 L458.8 220.8 L461.8 222.5 L464.9 221.7 L467.9 217.5 L471.0 216.7 L474.0 215.8 L477.1 212.5 L480.1 208.3 L483.2 205.8 L486.2 204.2 L489.3 203.3 L492.3 203.3 L495.4 200.8 L498.4 198.3 L501.5 196.7 L504.5 194.2 L507.6 191.7 L510.7 190.0 L513.7 188.3 L516.8 185.8 L519.8 183.3 L522.9 182.5 L525.9 181.7 L529.0 181.3 L532.0 180.0 L535.1 178.3 L538.1 176.7 L541.2 175.8 L544.2 175.3 L547.3 175.0 L550.3 175.0 L553.4 173.3 L556.4 171.7 L559.5 170.0 L562.5 169.2 L565.6 168.3 L568.6 167.5 L571.7 166.7 L574.7 165.8 L577.8 165.0 L580.8 164.2 L583.9 163.3 L586.9 162.0 L590.0 160.0 L593.0 159.2 L596.1 158.3 L599.1 158.0 L602.2 157.5 L605.2 156.3 L608.3 154.7 L611.3 152.5 L614.4 150.3 L617.5 149.7 L620.5 149.7 L623.6 149.2 L626.6 148.7 L629.7 148.7 L632.7 148.0 L635.8 145.8 L638.8 142.5 L641.9 140.8 L644.9 140.0 L648.0 139.7 L651.0 139.2 L654.1 139.2 L657.1 138.3 L660.2 137.5 L663.2 136.7 L666.3 136.3 L669.3 135.8 L672.4 135.5 L675.4 135.0 L678.5 135.0 L681.5 135.3 L684.6 135.3 L687.6 135.0 L690.7 134.7 L693.7 133.0 L696.8 132.0 L699.8 131.7 L702.9 131.7 L705.9 132.0 L709.0 133.0 L712.0 134.2 L715.1 135.0 L718.1 135.3 L721.2 135.3 L724.3 135.0 L727.3 133.7 L730.4 133.0 L733.4 133.7 L736.5 133.7 L739.5 133.7 L742.6 133.3 L745.6 133.0 L748.7 132.8 L751.7 132.7 L754.8 132.5 L757.8 132.5 L760.9 132.0 L763.9 132.5 L767.0 133.3 L770.0 133.3 L773.1 134.2 L776.1 134.7 L779.2 135.8 L782.2 136.3 L785.3 137.0 L788.3 137.5 L791.4 137.0 L794.4 136.7 L797.5 138.7 L800.5 140.8 L803.6 138.7 L806.6 136.3 L809.7 137.0 L812.7 140.0 L815.8 142.5 L818.8 144.2 L821.9 145.3 L824.9 146.3 L828.0 145.8 L831.1 145.3 L834.1 145.8 L837.2 145.3 L840.2 145.0 L843.3 144.7 L846.3 147.0 L849.4 149.7 L852.4 152.5 L855.5 154.7 L858.5 155.0 L861.6 154.2 L864.6 154.7 L867.7 155.0 L870.7 156.7 L873.8 159.2 L876.8 161.3 L879.9 161.7 L882.9 162.0 L886.0 164.2 L889.0 165.8 L892.1 165.3 L895.1 166.7 L898.2 169.2 L901.2 172.5 L904.3 174.2 L907.3 175.0 L910.4 174.2 L913.4 174.2 L916.5 175.8 L919.5 178.0 L922.6 179.2 L925.6 185.0 L928.7 191.7 L931.7 193.3 L934.8 195.0 L937.9 196.7 L940.9 199.2 L944.0 202.5 L947.0 203.3 L950.1 203.0 L953.1 204.2 L956.2 206.7 L959.2 210.8 L962.3 214.2 L965.3 215.8 L968.4 217.5 L971.4 220.0 L974.5 223.0 L977.5 224.7 L980.6 225.3 L983.6 225.8 L986.7 225.8 L989.7 226.7 L992.8 228.3 L995.8 227.5 L998.9 228.3 L1001.9 229.7 L1005.0 229.2 L1008.0 227.5 L1011.1 225.8 L1014.1 225.0 L1017.2 224.2 L1020.2 225.0 L1023.3 229.2 L1026.3 231.3 L1029.4 233.3 L1032.4 235.0 L1035.5 236.7 L1038.5 238.0 L1041.6 238.7 L1044.7 240.0 L1047.7 238.7 L1050.8 237.5 L1053.8 240.8 L1056.9 245.0 L1059.9 248.3 L1063.0 249.2 L1066.0 246.7 L1069.1 243.0 L1072.1 240.0 L1075.2 239.2 L1078.2 240.0 L1081.3 242.0 L1084.3 243.3 L1087.4 243.7 L1090.4 244.2 L1093.5 245.3 L1096.5 245.8 L1099.6 246.7 L1102.6 247.5 L1105.7 248.7 L1108.7 249.7 L1111.8 251.7 L1114.8 253.7 L1117.9 254.7 L1120.9 253.3 L1124.0 255.0 L1127.0 261.7 L1130.1 268.3 L1133.1 272.5 L1136.2 273.3 L1139.2 271.7 L1142.3 276.7 L1145.3 281.7 L1148.4 282.5 L1151.5 280.8 L1154.5 282.5 L1157.6 288.3 L1160.6 289.2 L1163.7 285.8 L1166.7 282.5 L1169.8 280.8" fill="none" stroke="#f00000" stroke-width="1.55" stroke-linejoin="round" stroke-linecap="round" stroke-dasharray="6 6" stroke-opacity="0.7"/>
<path d="M59.0 330.0 L62.1 324.2 L65.1 318.7 L68.2 323.3 L71.2 334.2 L74.3 344.2 L77.3 340.0 L80.4 334.2 L83.5 330.0 L86.5 332.0 L89.6 333.7 L92.6 329.2 L95.7 323.3 L98.7 312.5 L101.8 315.0 L104.8 317.0 L107.9 318.3 L110.9 310.8 L114.0 304.7 L117.0 306.7 L120.1 315.8 L123.1 326.7 L126.2 324.2 L129.2 330.0 L132.3 330.3 L135.3 330.0 L138.4 326.7 L141.4 324.2 L144.5 323.7 L147.5 327.5 L150.6 329.2 L153.6 330.0 L156.7 327.5 L159.7 320.0 L162.8 335.0 L165.8 337.5 L168.9 333.3 L171.9 325.0 L175.0 315.8 L178.0 306.7 L181.1 305.8 L184.1 303.3 L187.2 298.3 L190.3 296.2 L193.3 300.8 L196.4 312.5 L199.4 323.3 L202.5 313.3 L205.5 304.2 L208.6 298.7 L211.6 313.3 L214.7 315.8 L217.7 320.0 L220.8 333.0 L223.8 332.5 L226.9 336.3 L229.9 339.2 L233.0 333.3 L236.0 329.2 L239.1 326.7 L242.1 319.2 L245.2 313.3 L248.2 315.8 L251.3 315.0 L254.3 303.3 L257.4 296.7 L260.4 295.0 L263.5 298.3 L266.5 289.2 L269.6 282.5 L272.6 295.8 L275.7 307.5 L278.7 302.5 L281.8 306.7 L284.8 310.0 L287.9 304.2 L290.9 295.8 L294.0 293.3 L297.1 291.7 L300.1 295.0 L303.2 303.3 L306.2 307.5 L309.3 308.3 L312.3 313.3 L315.4 321.7 L318.4 325.0 L321.5 331.7 L324.5 326.7 L327.6 322.5 L330.6 330.0 L333.7 318.3 L336.7 310.0 L339.8 316.7 L342.8 320.8 L345.9 324.2 L348.9 325.8 L352.0 330.8 L355.0 339.2 L358.1 332.5 L361.1 328.3 L364.2 322.5 L367.2 307.5 L370.3 295.0 L373.3 296.7 L376.4 298.3 L379.4 298.3 L382.5 289.2 L385.5 295.8 L388.6 303.3 L391.6 293.3 L394.7 281.7 L397.7 271.7 L400.8 263.3 L403.9 263.3 L406.9 261.7 L410.0 256.0 L413.0 249.0 L416.1 248.5 L419.1 256.0 L422.2 260.0 L425.2 259.0 L428.3 249.0 L431.3 242.0 L434.4 236.5 L437.4 235.5 L440.5 238.0 L443.5 240.5 L446.6 238.0 L449.6 233.5 L452.7 228.0 L455.7 221.5 L458.8 218.0 L461.8 219.5 L464.9 223.0 L467.9 221.0 L471.0 217.5 L474.0 217.0 L477.1 216.0 L480.1 214.5 L483.2 212.5 L486.2 210.5 L489.3 208.5 L492.3 211.0 L495.4 215.0 L498.4 213.0 L501.5 209.5 L504.5 207.0 L507.6 204.5 L510.7 202.0 L513.7 198.3 L516.8 199.2 L519.8 197.5 L522.9 194.2 L525.9 192.5 L529.0 190.0 L532.0 187.5 L535.1 187.5 L538.1 185.8 L541.2 182.5 L544.2 180.0 L547.3 178.3 L550.3 176.7 L553.4 175.0 L556.4 172.5 L559.5 170.0 L562.5 168.3 L565.6 167.5 L568.6 166.7 L571.7 169.2 L574.7 168.3 L577.8 166.7 L580.8 165.8 L583.9 164.2 L586.9 161.7 L590.0 160.8 L593.0 162.5 L596.1 161.7 L599.1 161.7 L602.2 162.5 L605.2 161.7 L608.3 160.0 L611.3 159.2 L614.4 157.5 L617.5 155.0 L620.5 152.5 L623.6 153.0 L626.6 151.7 L629.7 150.0 L632.7 149.2 L635.8 150.0 L638.8 148.7 L641.9 147.0 L644.9 147.5 L648.0 148.7 L651.0 148.0 L654.1 146.7 L657.1 147.5 L660.2 146.7 L663.2 146.3 L666.3 145.0 L669.3 143.7 L672.4 143.3 L675.4 143.0 L678.5 143.7 L681.5 144.2 L684.6 143.3 L687.6 142.5 L690.7 141.3 L693.7 139.2 L696.8 136.3 L699.8 137.5 L702.9 139.2 L705.9 138.3 L709.0 136.7 L712.0 135.3 L715.1 135.8 L718.1 137.5 L721.2 138.3 L724.3 139.2 L727.3 137.5 L730.4 136.7 L733.4 140.8 L736.5 143.0 L739.5 143.3 L742.6 142.5 L745.6 142.5 L748.7 141.7 L751.7 140.8 L754.8 140.0 L757.8 139.7 L760.9 140.8 L763.9 142.5 L767.0 143.0 L770.0 144.2 L773.1 144.7 L776.1 145.8 L779.2 147.5 L782.2 149.2 L785.3 152.5 L788.3 153.0 L791.4 150.0 L794.4 147.0 L797.5 145.8 L800.5 146.3 L803.6 145.0 L806.6 143.3 L809.7 142.5 L812.7 142.0 L815.8 144.2 L818.8 146.3 L821.9 148.0 L824.9 149.2 L828.0 149.2 L831.1 148.7 L834.1 149.2 L837.2 155.0 L840.2 155.8 L843.3 155.0 L846.3 157.5 L849.4 159.7 L852.4 160.8 L855.5 162.5 L858.5 167.5 L861.6 170.0 L864.6 173.0 L867.7 171.3 L870.7 170.3 L873.8 172.5 L876.8 173.3 L879.9 177.5 L882.9 183.3 L886.0 182.5 L889.0 183.3 L892.1 184.2 L895.1 182.5 L898.2 183.3 L901.2 186.7 L904.3 188.3 L907.3 191.7 L910.4 187.5 L913.4 181.3 L916.5 187.5 L919.5 191.7 L922.6 190.8 L925.6 194.2 L928.7 198.3 L931.7 197.5 L934.8 199.2 L937.9 196.3 L940.9 197.5 L944.0 210.0 L947.0 215.8 L950.1 218.3 L953.1 224.2 L956.2 224.7 L959.2 225.0 L962.3 222.5 L965.3 230.0 L968.4 235.0 L971.4 234.2 L974.5 235.8 L977.5 237.5 L980.6 239.2 L983.6 248.3 L986.7 252.5 L989.7 250.8 L992.8 246.7 L995.8 245.3 L998.9 247.5 L1001.9 246.7 L1005.0 240.8 L1008.0 243.0 L1011.1 243.7 L1014.1 244.2 L1017.2 250.0 L1020.2 258.3 L1023.3 264.2 L1026.3 267.5 L1029.4 267.5 L1032.4 262.5 L1035.5 256.7 L1038.5 260.0 L1041.6 264.2 L1044.7 266.7 L1047.7 267.5 L1050.8 272.5 L1053.8 277.5 L1056.9 281.7 L1059.9 287.5 L1063.0 280.8 L1066.0 280.8 L1069.1 285.8 L1072.1 280.0 L1075.2 283.3 L1078.2 288.3 L1081.3 290.8 L1084.3 295.8 L1087.4 305.8 L1090.4 312.5 L1093.5 312.0 L1096.5 309.2 L1099.6 303.3 L1102.6 299.2 L1105.7 298.3 L1108.7 305.0 L1111.8 304.2 L1114.8 307.5 L1117.9 310.0 L1120.9 305.0 L1124.0 314.2 L1127.0 312.5 L1130.1 311.7 L1133.1 320.0 L1136.2 325.0 L1139.2 324.2 L1142.3 313.3 L1145.3 301.7 L1148.4 296.7 L1151.5 295.8 L1154.5 301.7 L1157.6 312.5 L1160.6 319.2 L1163.7 323.3 L1166.7 327.5 L1169.8 331.7" fill="none" stroke="#5555f5" stroke-width="0.8" stroke-linejoin="round"/>
<path d="M59.0 315.8 L62.1 323.3 L65.1 330.0 L68.2 331.7 L71.2 327.5 L74.3 330.0 L77.3 336.7 L80.4 330.8 L83.5 328.3 L86.5 333.3 L89.6 341.7 L92.6 337.5 L95.7 325.0 L98.7 308.3 L101.8 294.2 L104.8 289.2 L107.9 291.7 L110.9 300.8 L114.0 304.2 L117.0 291.3 L120.1 293.3 L123.1 301.7 L126.2 310.8 L129.2 320.8 L132.3 311.7 L135.3 311.3 L138.4 324.2 L141.4 331.3 L144.5 325.8 L147.5 319.2 L150.6 320.8 L153.6 317.5 L156.7 319.2 L159.7 328.3 L162.8 337.5 L165.8 340.8 L168.9 344.2 L171.9 344.2 L175.0 337.5 L178.0 337.5 L181.1 328.3 L184.1 323.0 L187.2 326.7 L190.3 325.0 L193.3 311.3 L196.4 317.5 L199.4 328.3 L202.5 338.3 L205.5 340.0 L208.6 345.8 L211.6 348.7 L214.7 346.7 L217.7 335.0 L220.8 317.5 L223.8 307.5 L226.9 303.3 L229.9 303.3 L233.0 301.7 L236.0 294.2 L239.1 306.7 L242.1 300.0 L245.2 305.0 L248.2 315.0 L251.3 320.0 L254.3 311.7 L257.4 300.0 L260.4 307.5 L263.5 301.7 L266.5 305.0 L269.6 309.7 L272.6 301.7 L275.7 285.0 L278.7 275.0 L281.8 265.8 L284.8 260.8 L287.9 261.7 L290.9 265.0 L294.0 271.7 L297.1 280.0 L300.1 289.2 L303.2 293.0 L306.2 283.3 L309.3 281.7 L312.3 286.7 L315.4 294.2 L318.4 285.8 L321.5 301.7 L324.5 316.7 L327.6 319.2 L330.6 311.7 L333.7 303.3 L336.7 295.0 L339.8 287.5 L342.8 282.5 L345.9 281.3 L348.9 281.3 L352.0 281.7 L355.0 284.2 L358.1 285.8 L361.1 286.7 L364.2 283.3 L367.2 289.2 L370.3 300.0 L373.3 302.5 L376.4 296.7 L379.4 291.7 L382.5 286.7 L385.5 288.3 L388.6 290.8 L391.6 285.0 L394.7 280.0 L397.7 276.7 L400.8 274.2 L403.9 271.7 L406.9 267.5 L410.0 260.0 L413.0 254.5 L416.1 252.0 L419.1 253.5 L422.2 253.5 L425.2 246.5 L428.3 244.5 L431.3 241.5 L434.4 247.0 L437.4 252.0 L440.5 252.5 L443.5 249.0 L446.6 243.0 L449.6 237.0 L452.7 231.5 L455.7 234.5 L458.8 238.5 L461.8 242.0 L464.9 242.0 L467.9 238.5 L471.0 234.0 L474.0 229.0 L477.1 224.5 L480.1 216.0 L483.2 213.0 L486.2 211.5 L489.3 210.0 L492.3 210.5 L495.4 208.5 L498.4 207.0 L501.5 205.0 L504.5 200.5 L507.6 199.2 L510.7 197.5 L513.7 194.2 L516.8 191.7 L519.8 188.3 L522.9 185.0 L525.9 184.2 L529.0 185.8 L532.0 183.3 L535.1 180.8 L538.1 180.0 L541.2 179.2 L544.2 178.3 L547.3 178.0 L550.3 177.5 L553.4 175.0 L556.4 172.5 L559.5 171.7 L562.5 172.5 L565.6 174.2 L568.6 175.0 L571.7 173.3 L574.7 168.3 L577.8 165.8 L580.8 166.3 L583.9 167.5 L586.9 167.5 L590.0 166.7 L593.0 165.3 L596.1 163.3 L599.1 162.5 L602.2 162.0 L605.2 161.7 L608.3 161.3 L611.3 160.8 L614.4 160.0 L617.5 159.2 L620.5 158.7 L623.6 158.0 L626.6 157.5 L629.7 156.7 L632.7 155.8 L635.8 155.0 L638.8 154.2 L641.9 152.5 L644.9 149.7 L648.0 146.7 L651.0 144.2 L654.1 145.0 L657.1 146.3 L660.2 146.7 L663.2 145.8 L666.3 145.0 L669.3 144.2 L672.4 144.2 L675.4 143.7 L678.5 143.0 L681.5 145.8 L684.6 145.8 L687.6 145.0 L690.7 143.7 L693.7 140.8 L696.8 138.3 L699.8 139.2 L702.9 140.3 L705.9 141.3 L709.0 142.5 L712.0 143.3 L715.1 144.2 L718.1 143.7 L721.2 142.5 L724.3 140.0 L727.3 137.5 L730.4 137.0 L733.4 139.2 L736.5 141.3 L739.5 141.7 L742.6 141.3 L745.6 141.3 L748.7 140.8 L751.7 140.3 L754.8 140.0 L757.8 141.3 L760.9 142.5 L763.9 145.0 L767.0 145.3 L770.0 145.0 L773.1 142.5 L776.1 139.7 L779.2 140.0 L782.2 141.7 L785.3 144.2 L788.3 145.0 L791.4 145.3 L794.4 145.3 L797.5 145.0 L800.5 145.8 L803.6 147.0 L806.6 147.5 L809.7 151.7 L812.7 155.8 L815.8 154.7 L818.8 154.2 L821.9 155.0 L824.9 155.8 L828.0 156.7 L831.1 157.0 L834.1 155.8 L837.2 155.0 L840.2 154.2 L843.3 153.7 L846.3 155.8 L849.4 160.0 L852.4 164.2 L855.5 166.7 L858.5 164.2 L861.6 162.5 L864.6 162.0 L867.7 164.2 L870.7 169.2 L873.8 173.0 L876.8 170.8 L879.9 166.7 L882.9 165.0 L886.0 167.5 L889.0 172.5 L892.1 173.0 L895.1 172.0 L898.2 176.7 L901.2 181.7 L904.3 185.0 L907.3 186.3 L910.4 186.7 L913.4 187.0 L916.5 190.0 L919.5 197.5 L922.6 199.2 L925.6 200.8 L928.7 205.0 L931.7 209.2 L934.8 213.3 L937.9 217.5 L940.9 221.7 L944.0 226.7 L947.0 232.0 L950.1 231.7 L953.1 229.2 L956.2 230.0 L959.2 235.8 L962.3 240.8 L965.3 244.2 L968.4 248.3 L971.4 250.0 L974.5 255.0 L977.5 260.8 L980.6 255.8 L983.6 249.2 L986.7 248.3 L989.7 254.2 L992.8 260.3 L995.8 255.0 L998.9 253.3 L1001.9 253.3 L1005.0 255.3 L1008.0 252.5 L1011.1 248.3 L1014.1 250.0 L1017.2 245.8 L1020.2 244.2 L1023.3 246.7 L1026.3 249.2 L1029.4 251.3 L1032.4 254.2 L1035.5 256.7 L1038.5 258.3 L1041.6 263.3 L1044.7 266.7 L1047.7 262.5 L1050.8 260.8 L1053.8 260.8 L1056.9 267.5 L1059.9 270.8 L1063.0 262.5 L1066.0 253.3 L1069.1 253.0 L1072.1 252.5 L1075.2 252.0 L1078.2 251.3 L1081.3 255.0 L1084.3 263.3 L1087.4 268.3 L1090.4 260.8 L1093.5 264.2 L1096.5 274.2 L1099.6 269.2 L1102.6 261.3 L1105.7 266.7 L1108.7 269.2 L1111.8 275.8 L1114.8 284.2 L1117.9 290.0 L1120.9 290.0 L1124.0 284.2 L1127.0 291.7 L1130.1 300.0 L1133.1 306.7 L1136.2 308.3 L1139.2 310.0 L1142.3 316.7 L1145.3 322.5 L1148.4 319.2 L1151.5 320.8 L1154.5 322.0 L1157.6 319.2 L1160.6 315.8 L1163.7 312.5 L1166.7 303.3 L1169.8 297.5" fill="none" stroke="#4a9050" stroke-width="0.8" stroke-linejoin="round"/>
<path d="M59.0 279.2 L62.1 281.7 L65.1 285.0 L68.2 287.5 L71.2 275.0 L74.3 271.7 L77.3 270.0 L80.4 268.7 L83.5 269.2 L86.5 270.0 L89.6 285.0 L92.6 295.8 L95.7 304.2 L98.7 301.7 L101.8 291.7 L104.8 287.5 L107.9 290.8 L110.9 289.2 L114.0 288.3 L117.0 289.2 L120.1 283.3 L123.1 275.8 L126.2 275.0 L129.2 273.3 L132.3 262.5 L135.3 271.7 L138.4 281.7 L141.4 283.3 L144.5 285.0 L147.5 289.2 L150.6 292.0 L153.6 293.0 L156.7 292.0 L159.7 291.3 L162.8 288.3 L165.8 282.5 L168.9 286.7 L171.9 289.7 L175.0 285.8 L178.0 278.7 L181.1 282.5 L184.1 283.0 L187.2 281.7 L190.3 288.3 L193.3 292.0 L196.4 288.3 L199.4 285.0 L202.5 295.8 L205.5 303.3 L208.6 295.8 L211.6 287.5 L214.7 280.0 L217.7 291.7 L220.8 310.0 L223.8 316.7 L226.9 320.8 L229.9 318.3 L233.0 323.3 L236.0 327.5 L239.1 322.5 L242.1 316.7 L245.2 311.7 L248.2 305.0 L251.3 295.0 L254.3 289.2 L257.4 291.7 L260.4 294.2 L263.5 288.3 L266.5 291.3 L269.6 291.7 L272.6 293.0 L275.7 289.7 L278.7 288.3 L281.8 295.0 L284.8 301.7 L287.9 308.3 L290.9 312.5 L294.0 313.0 L297.1 306.7 L300.1 302.5 L303.2 300.8 L306.2 302.5 L309.3 303.3 L312.3 304.2 L315.4 298.0 L318.4 299.2 L321.5 303.3 L324.5 302.5 L327.6 305.8 L330.6 302.5 L333.7 308.3 L336.7 306.7 L339.8 303.3 L342.8 297.5 L345.9 292.5 L348.9 287.5 L352.0 283.3 L355.0 279.2 L358.1 275.0 L361.1 262.5 L364.2 253.3 L367.2 257.5 L370.3 261.7 L373.3 260.8 L376.4 256.7 L379.4 252.2 L382.5 255.8 L385.5 260.0 L388.6 255.0 L391.6 256.7 L394.7 260.0 L397.7 262.5 L400.8 260.8 L403.9 258.3 L406.9 255.0 L410.0 248.3 L413.0 243.3 L416.1 237.5 L419.1 233.3 L422.2 229.2 L425.2 227.5 L428.3 228.3 L431.3 230.8 L434.4 233.3 L437.4 232.5 L440.5 229.7 L443.5 225.8 L446.6 222.5 L449.6 221.7 L452.7 220.8 L455.7 219.2 L458.8 218.3 L461.8 215.0 L464.9 212.5 L467.9 211.7 L471.0 214.2 L474.0 216.7 L477.1 215.8 L480.1 213.3 L483.2 210.8 L486.2 208.3 L489.3 206.7 L492.3 204.2 L495.4 201.7 L498.4 200.0 L501.5 197.5 L504.5 195.0 L507.6 194.2 L510.7 192.5 L513.7 190.8 L516.8 189.2 L519.8 185.8 L522.9 184.2 L525.9 185.0 L529.0 186.7 L532.0 185.0 L535.1 181.7 L538.1 178.3 L541.2 176.7 L544.2 175.8 L547.3 175.0 L550.3 175.0 L553.4 174.2 L556.4 172.5 L559.5 170.8 L562.5 170.0 L565.6 169.2 L568.6 168.3 L571.7 167.5 L574.7 166.7 L577.8 165.8 L580.8 166.7 L583.9 165.0 L586.9 162.5 L590.0 160.0 L593.0 159.7 L596.1 158.7 L599.1 158.3 L602.2 158.0 L605.2 158.7 L608.3 159.2 L611.3 156.7 L614.4 152.5 L617.5 150.8 L620.5 153.0 L623.6 152.5 L626.6 151.3 L629.7 150.0 L632.7 149.2 L635.8 147.5 L638.8 144.2 L641.9 140.0 L644.9 138.7 L648.0 139.2 L651.0 140.3 L654.1 140.8 L657.1 140.8 L660.2 140.3 L663.2 141.3 L666.3 141.7 L669.3 140.8 L672.4 140.0 L675.4 139.7 L678.5 140.3 L681.5 140.8 L684.6 140.3 L687.6 139.7 L690.7 138.3 L693.7 136.3 L696.8 135.0 L699.8 134.7 L702.9 134.2 L705.9 135.0 L709.0 136.3 L712.0 137.5 L715.1 138.3 L718.1 138.7 L721.2 138.3 L724.3 137.5 L727.3 135.8 L730.4 135.0 L733.4 136.7 L736.5 137.5 L739.5 137.5 L742.6 136.3 L745.6 134.2 L748.7 135.8 L751.7 135.3 L754.8 135.0 L757.8 136.3 L760.9 135.8 L763.9 135.3 L767.0 134.7 L770.0 133.3 L773.1 132.0 L776.1 133.3 L779.2 135.8 L782.2 135.0 L785.3 136.3 L788.3 138.0 L791.4 140.8 L794.4 142.5 L797.5 144.2 L800.5 144.7 L803.6 142.5 L806.6 136.7 L809.7 137.5 L812.7 140.8 L815.8 144.2 L818.8 147.5 L821.9 149.7 L824.9 150.3 L828.0 150.0 L831.1 149.2 L834.1 149.7 L837.2 151.3 L840.2 150.8 L843.3 148.7 L846.3 146.7 L849.4 150.0 L852.4 154.2 L855.5 156.3 L858.5 157.5 L861.6 157.5 L864.6 157.5 L867.7 159.2 L870.7 161.7 L873.8 165.0 L876.8 167.5 L879.9 166.7 L882.9 169.2 L886.0 172.0 L889.0 174.2 L892.1 170.8 L895.1 167.5 L898.2 170.8 L901.2 175.0 L904.3 176.7 L907.3 175.8 L910.4 173.3 L913.4 169.2 L916.5 170.0 L919.5 174.2 L922.6 178.3 L925.6 182.5 L928.7 192.5 L931.7 191.7 L934.8 190.3 L937.9 191.7 L940.9 192.5 L944.0 196.7 L947.0 197.5 L950.1 196.3 L953.1 196.7 L956.2 203.3 L959.2 210.8 L962.3 213.3 L965.3 215.8 L968.4 217.5 L971.4 218.7 L974.5 218.0 L977.5 217.5 L980.6 221.7 L983.6 225.3 L986.7 223.7 L989.7 221.3 L992.8 222.5 L995.8 225.0 L998.9 228.3 L1001.9 230.8 L1005.0 229.2 L1008.0 226.7 L1011.1 224.2 L1014.1 223.7 L1017.2 223.0 L1020.2 227.5 L1023.3 235.0 L1026.3 239.2 L1029.4 241.7 L1032.4 244.2 L1035.5 245.8 L1038.5 247.0 L1041.6 244.2 L1044.7 235.0 L1047.7 230.0 L1050.8 232.5 L1053.8 243.3 L1056.9 251.7 L1059.9 255.0 L1063.0 256.3 L1066.0 251.7 L1069.1 243.3 L1072.1 233.3 L1075.2 230.8 L1078.2 236.7 L1081.3 240.8 L1084.3 241.7 L1087.4 237.5 L1090.4 237.5 L1093.5 235.8 L1096.5 232.0 L1099.6 237.5 L1102.6 244.2 L1105.7 245.0 L1108.7 242.0 L1111.8 247.5 L1114.8 247.5 L1117.9 249.2 L1120.9 250.8 L1124.0 253.3 L1127.0 261.7 L1130.1 270.0 L1133.1 278.3 L1136.2 283.3 L1139.2 280.8 L1142.3 279.2 L1145.3 282.5 L1148.4 285.0 L1151.5 280.0 L1154.5 273.3 L1157.6 284.2 L1160.6 287.5 L1163.7 288.3 L1166.7 288.3 L1169.8 289.2" fill="none" stroke="#f2d24c" stroke-width="0.8" stroke-linejoin="round"/>
<path d="M59.0 256.7 L62.1 253.3 L65.1 252.2 L68.2 255.0 L71.2 258.7 L74.3 256.7 L77.3 255.0 L80.4 259.2 L83.5 263.0 L86.5 263.8 L89.6 267.5 L92.6 272.5 L95.7 275.0 L98.7 270.0 L101.8 264.2 L104.8 259.2 L107.9 255.0 L110.9 260.0 L114.0 263.3 L117.0 264.2 L120.1 265.8 L123.1 265.0 L126.2 264.7 L129.2 268.0 L132.3 273.0 L135.3 279.2 L138.4 280.8 L141.4 285.0 L144.5 282.5 L147.5 278.3 L150.6 275.3 L153.6 277.5 L156.7 280.5 L159.7 274.2 L162.8 266.7 L165.8 260.0 L168.9 265.5 L171.9 265.0 L175.0 255.0 L178.0 246.7 L181.1 242.0 L184.1 240.0 L187.2 245.8 L190.3 255.0 L193.3 260.8 L196.4 263.0 L199.4 263.3 L202.5 267.0 L205.5 273.7 L208.6 280.8 L211.6 275.0 L214.7 273.0 L217.7 267.5 L220.8 262.5 L223.8 261.7 L226.9 264.2 L229.9 257.5 L233.0 259.2 L236.0 265.8 L239.1 272.5 L242.1 273.0 L245.2 275.0 L248.2 274.2 L251.3 270.8 L254.3 267.5 L257.4 263.3 L260.4 258.7 L263.5 257.5 L266.5 262.5 L269.6 274.2 L272.6 276.3 L275.7 277.5 L278.7 280.0 L281.8 269.2 L284.8 260.8 L287.9 269.2 L290.9 275.0 L294.0 279.7 L297.1 282.0 L300.1 282.5 L303.2 278.3 L306.2 275.0 L309.3 273.0 L312.3 273.7 L315.4 272.5 L318.4 269.2 L321.5 265.0 L324.5 270.8 L327.6 276.3 L330.6 275.8 L333.7 275.0 L336.7 267.5 L339.8 260.8 L342.8 259.7 L345.9 259.2 L348.9 260.0 L352.0 261.7 L355.0 262.5 L358.1 260.8 L361.1 254.2 L364.2 252.5 L367.2 253.3 L370.3 248.3 L373.3 245.8 L376.4 245.0 L379.4 237.5 L382.5 230.0 L385.5 235.8 L388.6 237.0 L391.6 237.5 L394.7 237.5 L397.7 240.8 L400.8 241.7 L403.9 233.3 L406.9 231.7 L410.0 230.8 L413.0 229.7 L416.1 228.3 L419.1 227.5 L422.2 232.5 L425.2 228.3 L428.3 225.0 L431.3 221.7 L434.4 220.0 L437.4 222.5 L440.5 218.3 L443.5 211.7 L446.6 207.5 L449.6 209.2 L452.7 210.0 L455.7 208.3 L458.8 207.5 L461.8 210.3 L464.9 207.5 L467.9 204.2 L471.0 204.2 L474.0 201.7 L477.1 199.2 L480.1 196.7 L483.2 195.0 L486.2 194.2 L489.3 194.2 L492.3 193.3 L495.4 189.2 L498.4 188.3 L501.5 190.0 L504.5 185.8 L507.6 181.7 L510.7 180.8 L513.7 176.7 L516.8 173.3 L519.8 174.2 L522.9 175.0 L525.9 171.7 L529.0 172.5 L532.0 170.8 L535.1 168.7 L538.1 166.7 L541.2 169.2 L544.2 171.7 L547.3 173.3 L550.3 173.3 L553.4 170.8 L556.4 168.3 L559.5 166.7 L562.5 165.3 L565.6 165.8 L568.6 165.0 L571.7 163.3 L574.7 161.7 L577.8 159.2 L580.8 160.0 L583.9 158.3 L586.9 156.7 L590.0 153.3 L593.0 153.3 L596.1 153.0 L599.1 152.5 L602.2 151.3 L605.2 149.2 L608.3 145.8 L611.3 142.0 L614.4 139.2 L617.5 138.0 L620.5 138.3 L623.6 138.0 L626.6 137.5 L629.7 139.2 L632.7 139.7 L635.8 137.5 L638.8 135.0 L641.9 134.7 L644.9 134.2 L648.0 133.3 L651.0 132.5 L654.1 131.7 L657.1 129.7 L660.2 127.5 L663.2 125.0 L666.3 122.5 L669.3 120.3 L672.4 121.3 L675.4 119.2 L678.5 117.0 L681.5 117.5 L684.6 118.3 L687.6 120.8 L690.7 123.0 L693.7 121.3 L696.8 122.0 L699.8 121.7 L702.9 120.8 L705.9 119.7 L709.0 119.7 L712.0 120.8 L715.1 120.8 L718.1 121.7 L721.2 123.3 L724.3 123.7 L727.3 124.2 L730.4 124.7 L733.4 125.0 L736.5 123.7 L739.5 121.7 L742.6 122.0 L745.6 121.7 L748.7 121.2 L751.7 121.3 L754.8 120.8 L757.8 120.8 L760.9 117.0 L763.9 116.3 L767.0 121.7 L770.0 125.8 L773.1 127.5 L776.1 128.3 L779.2 126.7 L782.2 129.2 L785.3 131.3 L788.3 127.5 L791.4 124.7 L794.4 122.0 L797.5 125.8 L800.5 129.7 L803.6 129.2 L806.6 125.0 L809.7 124.2 L812.7 125.8 L815.8 127.5 L818.8 129.2 L821.9 130.8 L824.9 131.7 L828.0 133.3 L831.1 130.3 L834.1 129.7 L837.2 129.2 L840.2 130.0 L843.3 131.7 L846.3 135.0 L849.4 136.7 L852.4 138.3 L855.5 138.7 L858.5 140.8 L861.6 141.7 L864.6 142.5 L867.7 142.0 L870.7 141.7 L873.8 144.2 L876.8 145.8 L879.9 147.5 L882.9 149.2 L886.0 150.0 L889.0 152.0 L892.1 154.2 L895.1 153.3 L898.2 153.0 L901.2 155.8 L904.3 158.3 L907.3 160.8 L910.4 164.2 L913.4 168.3 L916.5 166.7 L919.5 163.3 L922.6 166.7 L925.6 174.2 L928.7 179.2 L931.7 178.3 L934.8 176.3 L937.9 178.3 L940.9 179.2 L944.0 180.0 L947.0 181.7 L950.1 183.0 L953.1 184.2 L956.2 185.3 L959.2 186.7 L962.3 188.0 L965.3 187.5 L968.4 191.7 L971.4 194.2 L974.5 195.8 L977.5 196.7 L980.6 199.2 L983.6 203.3 L986.7 204.2 L989.7 201.7 L992.8 200.3 L995.8 199.2 L998.9 200.8 L1001.9 203.3 L1005.0 205.8 L1008.0 203.3 L1011.1 202.0 L1014.1 203.7 L1017.2 203.3 L1020.2 199.7 L1023.3 202.5 L1026.3 208.3 L1029.4 202.0 L1032.4 206.7 L1035.5 211.7 L1038.5 210.0 L1041.6 209.2 L1044.7 223.3 L1047.7 224.2 L1050.8 217.5 L1053.8 213.3 L1056.9 220.0 L1059.9 226.7 L1063.0 230.8 L1066.0 227.5 L1069.1 226.7 L1072.1 231.7 L1075.2 234.7 L1078.2 229.2 L1081.3 228.0 L1084.3 223.3 L1087.4 226.0 L1090.4 230.7 L1093.5 233.3 L1096.5 234.0 L1099.6 230.4 L1102.6 233.3 L1105.7 235.7 L1108.7 233.6 L1111.8 231.7 L1114.8 229.6 L1117.9 226.0 L1120.9 222.4 L1124.0 228.7 L1127.0 235.3 L1130.1 238.0 L1133.1 232.7 L1136.2 230.0 L1139.2 225.1 L1142.3 231.3 L1145.3 242.7 L1148.4 246.0 L1151.5 245.3 L1154.5 250.0 L1157.6 261.3 L1160.6 265.3 L1163.7 256.0 L1166.7 256.7 L1169.8 254.7" fill="none" stroke="#ec5555" stroke-width="0.8" stroke-linejoin="round"/>
<path d="M59.0 279.5 L62.1 270.0 L65.1 258.8 L68.2 270.0 L71.2 273.8 L74.3 274.0 L77.3 268.0 L80.4 238.0 L83.5 217.0 L86.5 235.4" fill="none" stroke="#000" stroke-width="2.6" stroke-linejoin="round" stroke-linecap="round"/>
</g>
<g stroke="#000" fill="none" stroke-linecap="square"><line x1="59.04" y1="59.04" x2="1169.76" y2="59.04" stroke-width="1" stroke-opacity="0.9"/><line x1="59.04" y1="59.04" x2="59.04" y2="526.56" stroke-width="1.1" stroke-opacity="0.95"/><line x1="1169.76" y1="59.04" x2="1169.76" y2="526.56" stroke-width="1.1" stroke-opacity="0.85"/><line x1="59.04" y1="526.56" x2="1169.76" y2="526.56" stroke-width="1.1"/></g>
<g stroke="#000" stroke-width="0.85"><line x1="59.04" y1="526.56" x2="59.04" y2="533.76"/><line x1="62.09" y1="526.56" x2="62.09" y2="533.76"/><line x1="65.14" y1="526.56" x2="65.14" y2="533.76"/><line x1="68.19" y1="526.56" x2="68.19" y2="533.76"/><line x1="71.25" y1="526.56" x2="71.25" y2="533.76"/><line x1="74.30" y1="526.56" x2="74.30" y2="533.76"/><line x1="77.35" y1="526.56" x2="77.35" y2="533.76"/><line x1="80.40" y1="526.56" x2="80.40" y2="533.76"/><line x1="83.45" y1="526.56" x2="83.45" y2="533.76"/><line x1="86.50" y1="526.56" x2="86.50" y2="533.76"/><line x1="89.55" y1="526.56" x2="89.55" y2="533.76"/><line x1="92.61" y1="526.56" x2="92.61" y2="533.76"/><line x1="95.66" y1="526.56" x2="95.66" y2="533.76"/><line x1="98.71" y1="526.56" x2="98.71" y2="533.76"/><line x1="101.76" y1="526.56" x2="101.76" y2="533.76"/><line x1="104.81" y1="526.56" x2="104.81" y2="533.76"/><line x1="107.86" y1="526.56" x2="107.86" y2="533.76"/><line x1="110.91" y1="526.56" x2="110.91" y2="533.76"/><line x1="113.97" y1="526.56" x2="113.97" y2="533.76"/><line x1="117.02" y1="526.56" x2="117.02" y2="533.76"/><line x1="120.07" y1="526.56" x2="120.07" y2="533.76"/><line x1="123.12" y1="526.56" x2="123.12" y2="533.76"/><line x1="126.17" y1="526.56" x2="126.17" y2="533.76"/><line x1="129.22" y1="526.56" x2="129.22" y2="533.76"/><line x1="132.27" y1="526.56" x2="132.27" y2="533.76"/><line x1="135.33" y1="526.56" x2="135.33" y2="533.76"/><line x1="138.38" y1="526.56" x2="138.38" y2="533.76"/><line x1="141.43" y1="526.56" x2="141.43" y2="533.76"/><line x1="144.48" y1="526.56" x2="144.48" y2="533.76"/><line x1="147.53" y1="526.56" x2="147.53" y2="533.76"/><line x1="150.58" y1="526.56" x2="150.58" y2="533.76"/><line x1="153.63" y1="526.56" x2="153.63" y2="533.76"/><line x1="156.69" y1="526.56" x2="156.69" y2="533.76"/><line x1="159.74" y1="526.56" x2="159.74" y2="533.76"/><line x1="162.79" y1="526.56" x2="162.79" y2="533.76"/><line x1="165.84" y1="526.56" x2="165.84" y2="533.76"/><line x1="168.89" y1="526.56" x2="168.89" y2="533.76"/><line x1="171.94" y1="526.56" x2="171.94" y2="533.76"/><line x1="174.99" y1="526.56" x2="174.99" y2="533.76"/><line x1="178.05" y1="526.56" x2="178.05" y2="533.76"/><line x1="181.10" y1="526.56" x2="181.10" y2="533.76"/><line x1="184.15" y1="526.56" x2="184.15" y2="533.76"/><line x1="187.20" y1="526.56" x2="187.20" y2="533.76"/><line x1="190.25" y1="526.56" x2="190.25" y2="533.76"/><line x1="193.30" y1="526.56" x2="193.30" y2="533.76"/><line x1="196.35" y1="526.56" x2="196.35" y2="533.76"/><line x1="199.41" y1="526.56" x2="199.41" y2="533.76"/><line x1="202.46" y1="526.56" x2="202.46" y2="533.76"/><line x1="205.51" y1="526.56" x2="205.51" y2="533.76"/><line x1="208.56" y1="526.56" x2="208.56" y2="533.76"/><line x1="211.61" y1="526.56" x2="211.61" y2="533.76"/><line x1="214.66" y1="526.56" x2="214.66" y2="533.76"/><line x1="217.71" y1="526.56" x2="217.71" y2="533.76"/><line x1="220.77" y1="526.56" x2="220.77" y2="533.76"/><line x1="223.82" y1="526.56" x2="223.82" y2="533.76"/><line x1="226.87" y1="526.56" x2="226.87" y2="533.76"/><line x1="229.92" y1="526.56" x2="229.92" y2="533.76"/><line x1="232.97" y1="526.56" x2="232.97" y2="533.76"/><line x1="236.02" y1="526.56" x2="236.02" y2="533.76"/><line x1="239.07" y1="526.56" x2="239.07" y2="533.76"/><line x1="242.13" y1="526.56" x2="242.13" y2="533.76"/><line x1="245.18" y1="526.56" x2="245.18" y2="533.76"/><line x1="248.23" y1="526.56" x2="248.23" y2="533.76"/><line x1="251.28" y1="526.56" x2="251.28" y2="533.76"/><line x1="254.33" y1="526.56" x2="254.33" y2="533.76"/><line x1="257.38" y1="526.56" x2="257.38" y2="533.76"/><line x1="260.43" y1="526.56" x2="260.43" y2="533.76"/><line x1="263.49" y1="526.56" x2="263.49" y2="533.76"/><line x1="266.54" y1="526.56" x2="266.54" y2="533.76"/><line x1="269.59" y1="526.56" x2="269.59" y2="533.76"/><line x1="272.64" y1="526.56" x2="272.64" y2="533.76"/><line x1="275.69" y1="526.56" x2="275.69" y2="533.76"/><line x1="278.74" y1="526.56" x2="278.74" y2="533.76"/><line x1="281.79" y1="526.56" x2="281.79" y2="533.76"/><line x1="284.85" y1="526.56" x2="284.85" y2="533.76"/><line x1="287.90" y1="526.56" x2="287.90" y2="533.76"/><line x1="290.95" y1="526.56" x2="290.95" y2="533.76"/><line x1="294.00" y1="526.56" x2="294.00" y2="533.76"/><line x1="297.05" y1="526.56" x2="297.05" y2="533.76"/><line x1="300.10" y1="526.56" x2="300.10" y2="533.76"/><line x1="303.15" y1="526.56" x2="303.15" y2="533.76"/><line x1="306.21" y1="526.56" x2="306.21" y2="533.76"/><line x1="309.26" y1="526.56" x2="309.26" y2="533.76"/><line x1="312.31" y1="526.56" x2="312.31" y2="533.76"/><line x1="315.36" y1="526.56" x2="315.36" y2="533.76"/><line x1="318.41" y1="526.56" x2="318.41" y2="533.76"/><line x1="321.46" y1="526.56" x2="321.46" y2="533.76"/><line x1="324.51" y1="526.56" x2="324.51" y2="533.76"/><line x1="327.57" y1="526.56" x2="327.57" y2="533.76"/><line x1="330.62" y1="526.56" x2="330.62" y2="533.76"/><line x1="333.67" y1="526.56" x2="333.67" y2="533.76"/><line x1="336.72" y1="526.56" x2="336.72" y2="533.76"/><line x1="339.77" y1="526.56" x2="339.77" y2="533.76"/><line x1="342.82" y1="526.56" x2="342.82" y2="533.76"/><line x1="345.87" y1="526.56" x2="345.87" y2="533.76"/><line x1="348.93" y1="526.56" x2="348.93" y2="533.76"/><line x1="351.98" y1="526.56" x2="351.98" y2="533.76"/><line x1="355.03" y1="526.56" x2="355.03" y2="533.76"/><line x1="358.08" y1="526.56" x2="358.08" y2="533.76"/><line x1="361.13" y1="526.56" x2="361.13" y2="533.76"/><line x1="364.18" y1="526.56" x2="364.18" y2="533.76"/><line x1="367.23" y1="526.56" x2="367.23" y2="533.76"/><line x1="370.29" y1="526.56" x2="370.29" y2="533.76"/><line x1="373.34" y1="526.56" x2="373.34" y2="533.76"/><line x1="376.39" y1="526.56" x2="376.39" y2="533.76"/><line x1="379.44" y1="526.56" x2="379.44" y2="533.76"/><line x1="382.49" y1="526.56" x2="382.49" y2="533.76"/><line x1="385.54" y1="526.56" x2="385.54" y2="533.76"/><line x1="388.59" y1="526.56" x2="388.59" y2="533.76"/><line x1="391.65" y1="526.56" x2="391.65" y2="533.76"/><line x1="394.70" y1="526.56" x2="394.70" y2="533.76"/><line x1="397.75" y1="526.56" x2="397.75" y2="533.76"/><line x1="400.80" y1="526.56" x2="400.80" y2="533.76"/><line x1="403.85" y1="526.56" x2="403.85" y2="533.76"/><line x1="406.90" y1="526.56" x2="406.90" y2="533.76"/><line x1="409.95" y1="526.56" x2="409.95" y2="533.76"/><line x1="413.01" y1="526.56" x2="413.01" y2="533.76"/><line x1="416.06" y1="526.56" x2="416.06" y2="533.76"/><line x1="419.11" y1="526.56" x2="419.11" y2="533.76"/><line x1="422.16" y1="526.56" x2="422.16" y2="533.76"/><line x1="425.21" y1="526.56" x2="425.21" y2="533.76"/><line x1="428.26" y1="526.56" x2="428.26" y2="533.76"/><line x1="431.31" y1="526.56" x2="431.31" y2="533.76"/><line x1="434.37" y1="526.56" x2="434.37" y2="533.76"/><line x1="437.42" y1="526.56" x2="437.42" y2="533.76"/><line x1="440.47" y1="526.56" x2="440.47" y2="533.76"/><line x1="443.52" y1="526.56" x2="443.52" y2="533.76"/><line x1="446.57" y1="526.56" x2="446.57" y2="533.76"/><line x1="449.62" y1="526.56" x2="449.62" y2="533.76"/><line x1="452.67" y1="526.56" x2="452.67" y2="533.76"/><line x1="455.73" y1="526.56" x2="455.73" y2="533.76"/><line x1="458.78" y1="526.56" x2="458.78" y2="533.76"/><line x1="461.83" y1="526.56" x2="461.83" y2="533.76"/><line x1="464.88" y1="526.56" x2="464.88" y2="533.76"/><line x1="467.93" y1="526.56" x2="467.93" y2="533.76"/><line x1="470.98" y1="526.56" x2="470.98" y2="533.76"/><line x1="474.03" y1="526.56" x2="474.03" y2="533.76"/><line x1="477.09" y1="526.56" x2="477.09" y2="533.76"/><line x1="480.14" y1="526.56" x2="480.14" y2="533.76"/><line x1="483.19" y1="526.56" x2="483.19" y2="533.76"/><line x1="486.24" y1="526.56" x2="486.24" y2="533.76"/><line x1="489.29" y1="526.56" x2="489.29" y2="533.76"/><line x1="492.34" y1="526.56" x2="492.34" y2="533.76"/><line x1="495.39" y1="526.56" x2="495.39" y2="533.76"/><line x1="498.45" y1="526.56" x2="498.45" y2="533.76"/><line x1="501.50" y1="526.56" x2="501.50" y2="533.76"/><line x1="504.55" y1="526.56" x2="504.55" y2="533.76"/><line x1="507.60" y1="526.56" x2="507.60" y2="533.76"/><line x1="510.65" y1="526.56" x2="510.65" y2="533.76"/><line x1="513.70" y1="526.56" x2="513.70" y2="533.76"/><line x1="516.75" y1="526.56" x2="516.75" y2="533.76"/><line x1="519.81" y1="526.56" x2="519.81" y2="533.76"/><line x1="522.86" y1="526.56" x2="522.86" y2="533.76"/><line x1="525.91" y1="526.56" x2="525.91" y2="533.76"/><line x1="528.96" y1="526.56" x2="528.96" y2="533.76"/><line x1="532.01" y1="526.56" x2="532.01" y2="533.76"/><line x1="535.06" y1="526.56" x2="535.06" y2="533.76"/><line x1="538.11" y1="526.56" x2="538.11" y2="533.76"/><line x1="541.17" y1="526.56" x2="541.17" y2="533.76"/><line x1="544.22" y1="526.56" x2="544.22" y2="533.76"/><line x1="547.27" y1="526.56" x2="547.27" y2="533.76"/><line x1="550.32" y1="526.56" x2="550.32" y2="533.76"/><line x1="553.37" y1="526.56" x2="553.37" y2="533.76"/><line x1="556.42" y1="526.56" x2="556.42" y2="533.76"/><line x1="559.47" y1="526.56" x2="559.47" y2="533.76"/><line x1="562.53" y1="526.56" x2="562.53" y2="533.76"/><line x1="565.58" y1="526.56" x2="565.58" y2="533.76"/><line x1="568.63" y1="526.56" x2="568.63" y2="533.76"/><line x1="571.68" y1="526.56" x2="571.68" y2="533.76"/><line x1="574.73" y1="526.56" x2="574.73" y2="533.76"/><line x1="577.78" y1="526.56" x2="577.78" y2="533.76"/><line x1="580.83" y1="526.56" x2="580.83" y2="533.76"/><line x1="583.89" y1="526.56" x2="583.89" y2="533.76"/><line x1="586.94" y1="526.56" x2="586.94" y2="533.76"/><line x1="589.99" y1="526.56" x2="589.99" y2="533.76"/><line x1="593.04" y1="526.56" x2="593.04" y2="533.76"/><line x1="596.09" y1="526.56" x2="596.09" y2="533.76"/><line x1="599.14" y1="526.56" x2="599.14" y2="533.76"/><line x1="602.19" y1="526.56" x2="602.19" y2="533.76"/><line x1="605.25" y1="526.56" x2="605.25" y2="533.76"/><line x1="608.30" y1="526.56" x2="608.30" y2="533.76"/><line x1="611.35" y1="526.56" x2="611.35" y2="533.76"/><line x1="614.40" y1="526.56" x2="614.40" y2="533.76"/><line x1="617.45" y1="526.56" x2="617.45" y2="533.76"/><line x1="620.50" y1="526.56" x2="620.50" y2="533.76"/><line x1="623.55" y1="526.56" x2="623.55" y2="533.76"/><line x1="626.61" y1="526.56" x2="626.61" y2="533.76"/><line x1="629.66" y1="526.56" x2="629.66" y2="533.76"/><line x1="632.71" y1="526.56" x2="632.71" y2="533.76"/><line x1="635.76" y1="526.56" x2="635.76" y2="533.76"/><line x1="638.81" y1="526.56" x2="638.81" y2="533.76"/><line x1="641.86" y1="526.56" x2="641.86" y2="533.76"/><line x1="644.91" y1="526.56" x2="644.91" y2="533.76"/><line x1="647.97" y1="526.56" x2="647.97" y2="533.76"/><line x1="651.02" y1="526.56" x2="651.02" y2="533.76"/><line x1="654.07" y1="526.56" x2="654.07" y2="533.76"/><line x1="657.12" y1="526.56" x2="657.12" y2="533.76"/><line x1="660.17" y1="526.56" x2="660.17" y2="533.76"/><line x1="663.22" y1="526.56" x2="663.22" y2="533.76"/><line x1="666.27" y1="526.56" x2="666.27" y2="533.76"/><line x1="669.33" y1="526.56" x2="669.33" y2="533.76"/><line x1="672.38" y1="526.56" x2="672.38" y2="533.76"/><line x1="675.43" y1="526.56" x2="675.43" y2="533.76"/><line x1="678.48" y1="526.56" x2="678.48" y2="533.76"/><line x1="681.53" y1="526.56" x2="681.53" y2="533.76"/><line x1="684.58" y1="526.56" x2="684.58" y2="533.76"/><line x1="687.63" y1="526.56" x2="687.63" y2="533.76"/><line x1="690.69" y1="526.56" x2="690.69" y2="533.76"/><line x1="693.74" y1="526.56" x2="693.74" y2="533.76"/><line x1="696.79" y1="526.56" x2="696.79" y2="533.76"/><line x1="699.84" y1="526.56" x2="699.84" y2="533.76"/><line x1="702.89" y1="526.56" x2="702.89" y2="533.76"/><line x1="705.94" y1="526.56" x2="705.94" y2="533.76"/><line x1="708.99" y1="526.56" x2="708.99" y2="533.76"/><line x1="712.05" y1="526.56" x2="712.05" y2="533.76"/><line x1="715.10" y1="526.56" x2="715.10" y2="533.76"/><line x1="718.15" y1="526.56" x2="718.15" y2="533.76"/><line x1="721.20" y1="526.56" x2="721.20" y2="533.76"/><line x1="724.25" y1="526.56" x2="724.25" y2="533.76"/><line x1="727.30" y1="526.56" x2="727.30" y2="533.76"/><line x1="730.35" y1="526.56" x2="730.35" y2="533.76"/><line x1="733.41" y1="526.56" x2="733.41" y2="533.76"/><line x1="736.46" y1="526.56" x2="736.46" y2="533.76"/><line x1="739.51" y1="526.56" x2="739.51" y2="533.76"/><line x1="742.56" y1="526.56" x2="742.56" y2="533.76"/><line x1="745.61" y1="526.56" x2="745.61" y2="533.76"/><line x1="748.66" y1="526.56" x2="748.66" y2="533.76"/><line x1="751.71" y1="526.56" x2="751.71" y2="533.76"/><line x1="754.77" y1="526.56" x2="754.77" y2="533.76"/><line x1="757.82" y1="526.56" x2="757.82" y2="533.76"/><line x1="760.87" y1="526.56" x2="760.87" y2="533.76"/><line x1="763.92" y1="526.56" x2="763.92" y2="533.76"/><line x1="766.97" y1="526.56" x2="766.97" y2="533.76"/><line x1="770.02" y1="526.56" x2="770.02" y2="533.76"/><line x1="773.07" y1="526.56" x2="773.07" y2="533.76"/><line x1="776.13" y1="526.56" x2="776.13" y2="533.76"/><line x1="779.18" y1="526.56" x2="779.18" y2="533.76"/><line x1="782.23" y1="526.56" x2="782.23" y2="533.76"/><line x1="785.28" y1="526.56" x2="785.28" y2="533.76"/><line x1="788.33" y1="526.56" x2="788.33" y2="533.76"/><line x1="791.38" y1="526.56" x2="791.38" y2="533.76"/><line x1="794.43" y1="526.56" x2="794.43" y2="533.76"/><line x1="797.49" y1="526.56" x2="797.49" y2="533.76"/><line x1="800.54" y1="526.56" x2="800.54" y2="533.76"/><line x1="803.59" y1="526.56" x2="803.59" y2="533.76"/><line x1="806.64" y1="526.56" x2="806.64" y2="533.76"/><line x1="809.69" y1="526.56" x2="809.69" y2="533.76"/><line x1="812.74" y1="526.56" x2="812.74" y2="533.76"/><line x1="815.79" y1="526.56" x2="815.79" y2="533.76"/><line x1="818.85" y1="526.56" x2="818.85" y2="533.76"/><line x1="821.90" y1="526.56" x2="821.90" y2="533.76"/><line x1="824.95" y1="526.56" x2="824.95" y2="533.76"/><line x1="828.00" y1="526.56" x2="828.00" y2="533.76"/><line x1="831.05" y1="526.56" x2="831.05" y2="533.76"/><line x1="834.10" y1="526.56" x2="834.10" y2="533.76"/><line x1="837.15" y1="526.56" x2="837.15" y2="533.76"/><line x1="840.21" y1="526.56" x2="840.21" y2="533.76"/><line x1="843.26" y1="526.56" x2="843.26" y2="533.76"/><line x1="846.31" y1="526.56" x2="846.31" y2="533.76"/><line x1="849.36" y1="526.56" x2="849.36" y2="533.76"/><line x1="852.41" y1="526.56" x2="852.41" y2="533.76"/><line x1="855.46" y1="526.56" x2="855.46" y2="533.76"/><line x1="858.51" y1="526.56" x2="858.51" y2="533.76"/><line x1="861.57" y1="526.56" x2="861.57" y2="533.76"/><line x1="864.62" y1="526.56" x2="864.62" y2="533.76"/><line x1="867.67" y1="526.56" x2="867.67" y2="533.76"/><line x1="870.72" y1="526.56" x2="870.72" y2="533.76"/><line x1="873.77" y1="526.56" x2="873.77" y2="533.76"/><line x1="876.82" y1="526.56" x2="876.82" y2="533.76"/><line x1="879.87" y1="526.56" x2="879.87" y2="533.76"/><line x1="882.93" y1="526.56" x2="882.93" y2="533.76"/><line x1="885.98" y1="526.56" x2="885.98" y2="533.76"/><line x1="889.03" y1="526.56" x2="889.03" y2="533.76"/><line x1="892.08" y1="526.56" x2="892.08" y2="533.76"/><line x1="895.13" y1="526.56" x2="895.13" y2="533.76"/><line x1="898.18" y1="526.56" x2="898.18" y2="533.76"/><line x1="901.23" y1="526.56" x2="901.23" y2="533.76"/><line x1="904.29" y1="526.56" x2="904.29" y2="533.76"/><line x1="907.34" y1="526.56" x2="907.34" y2="533.76"/><line x1="910.39" y1="526.56" x2="910.39" y2="533.76"/><line x1="913.44" y1="526.56" x2="913.44" y2="533.76"/><line x1="916.49" y1="526.56" x2="916.49" y2="533.76"/><line x1="919.54" y1="526.56" x2="919.54" y2="533.76"/><line x1="922.59" y1="526.56" x2="922.59" y2="533.76"/><line x1="925.65" y1="526.56" x2="925.65" y2="533.76"/><line x1="928.70" y1="526.56" x2="928.70" y2="533.76"/><line x1="931.75" y1="526.56" x2="931.75" y2="533.76"/><line x1="934.80" y1="526.56" x2="934.80" y2="533.76"/><line x1="937.85" y1="526.56" x2="937.85" y2="533.76"/><line x1="940.90" y1="526.56" x2="940.90" y2="533.76"/><line x1="943.95" y1="526.56" x2="943.95" y2="533.76"/><line x1="947.01" y1="526.56" x2="947.01" y2="533.76"/><line x1="950.06" y1="526.56" x2="950.06" y2="533.76"/><line x1="953.11" y1="526.56" x2="953.11" y2="533.76"/><line x1="956.16" y1="526.56" x2="956.16" y2="533.76"/><line x1="959.21" y1="526.56" x2="959.21" y2="533.76"/><line x1="962.26" y1="526.56" x2="962.26" y2="533.76"/><line x1="965.31" y1="526.56" x2="965.31" y2="533.76"/><line x1="968.37" y1="526.56" x2="968.37" y2="533.76"/><line x1="971.42" y1="526.56" x2="971.42" y2="533.76"/><line x1="974.47" y1="526.56" x2="974.47" y2="533.76"/><line x1="977.52" y1="526.56" x2="977.52" y2="533.76"/><line x1="980.57" y1="526.56" x2="980.57" y2="533.76"/><line x1="983.62" y1="526.56" x2="983.62" y2="533.76"/><line x1="986.67" y1="526.56" x2="986.67" y2="533.76"/><line x1="989.73" y1="526.56" x2="989.73" y2="533.76"/><line x1="992.78" y1="526.56" x2="992.78" y2="533.76"/><line x1="995.83" y1="526.56" x2="995.83" y2="533.76"/><line x1="998.88" y1="526.56" x2="998.88" y2="533.76"/><line x1="1001.93" y1="526.56" x2="1001.93" y2="533.76"/><line x1="1004.98" y1="526.56" x2="1004.98" y2="533.76"/><line x1="1008.03" y1="526.56" x2="1008.03" y2="533.76"/><line x1="1011.09" y1="526.56" x2="1011.09" y2="533.76"/><line x1="1014.14" y1="526.56" x2="1014.14" y2="533.76"/><line x1="1017.19" y1="526.56" x2="1017.19" y2="533.76"/><line x1="1020.24" y1="526.56" x2="1020.24" y2="533.76"/><line x1="1023.29" y1="526.56" x2="1023.29" y2="533.76"/><line x1="1026.34" y1="526.56" x2="1026.34" y2="533.76"/><line x1="1029.39" y1="526.56" x2="1029.39" y2="533.76"/><line x1="1032.45" y1="526.56" x2="1032.45" y2="533.76"/><line x1="1035.50" y1="526.56" x2="1035.50" y2="533.76"/><line x1="1038.55" y1="526.56" x2="1038.55" y2="533.76"/><line x1="1041.60" y1="526.56" x2="1041.60" y2="533.76"/><line x1="1044.65" y1="526.56" x2="1044.65" y2="533.76"/><line x1="1047.70" y1="526.56" x2="1047.70" y2="533.76"/><line x1="1050.75" y1="526.56" x2="1050.75" y2="533.76"/><line x1="1053.81" y1="526.56" x2="1053.81" y2="533.76"/><line x1="1056.86" y1="526.56" x2="1056.86" y2="533.76"/><line x1="1059.91" y1="526.56" x2="1059.91" y2="533.76"/><line x1="1062.96" y1="526.56" x2="1062.96" y2="533.76"/><line x1="1066.01" y1="526.56" x2="1066.01" y2="533.76"/><line x1="1069.06" y1="526.56" x2="1069.06" y2="533.76"/><line x1="1072.11" y1="526.56" x2="1072.11" y2="533.76"/><line x1="1075.17" y1="526.56" x2="1075.17" y2="533.76"/><line x1="1078.22" y1="526.56" x2="1078.22" y2="533.76"/><line x1="1081.27" y1="526.56" x2="1081.27" y2="533.76"/><line x1="1084.32" y1="526.56" x2="1084.32" y2="533.76"/><line x1="1087.37" y1="526.56" x2="1087.37" y2="533.76"/><line x1="1090.42" y1="526.56" x2="1090.42" y2="533.76"/><line x1="1093.47" y1="526.56" x2="1093.47" y2="533.76"/><line x1="1096.53" y1="526.56" x2="1096.53" y2="533.76"/><line x1="1099.58" y1="526.56" x2="1099.58" y2="533.76"/><line x1="1102.63" y1="526.56" x2="1102.63" y2="533.76"/><line x1="1105.68" y1="526.56" x2="1105.68" y2="533.76"/><line x1="1108.73" y1="526.56" x2="1108.73" y2="533.76"/><line x1="1111.78" y1="526.56" x2="1111.78" y2="533.76"/><line x1="1114.83" y1="526.56" x2="1114.83" y2="533.76"/><line x1="1117.89" y1="526.56" x2="1117.89" y2="533.76"/><line x1="1120.94" y1="526.56" x2="1120.94" y2="533.76"/><line x1="1123.99" y1="526.56" x2="1123.99" y2="533.76"/><line x1="1127.04" y1="526.56" x2="1127.04" y2="533.76"/><line x1="1130.09" y1="526.56" x2="1130.09" y2="533.76"/><line x1="1133.14" y1="526.56" x2="1133.14" y2="533.76"/><line x1="1136.19" y1="526.56" x2="1136.19" y2="533.76"/><line x1="1139.25" y1="526.56" x2="1139.25" y2="533.76"/><line x1="1142.30" y1="526.56" x2="1142.30" y2="533.76"/><line x1="1145.35" y1="526.56" x2="1145.35" y2="533.76"/><line x1="1148.40" y1="526.56" x2="1148.40" y2="533.76"/><line x1="1151.45" y1="526.56" x2="1151.45" y2="533.76"/><line x1="1154.50" y1="526.56" x2="1154.50" y2="533.76"/><line x1="1157.55" y1="526.56" x2="1157.55" y2="533.76"/><line x1="1160.61" y1="526.56" x2="1160.61" y2="533.76"/><line x1="1163.66" y1="526.56" x2="1163.66" y2="533.76"/><line x1="1166.71" y1="526.56" x2="1166.71" y2="533.76"/><line x1="1169.76" y1="526.56" x2="1169.76" y2="533.76"/><line x1="59.04" y1="526.56" x2="1169.76" y2="526.56" stroke-width="1"/><line x1="59.04" y1="76.36" x2="59.04" y2="485.65" stroke-width="1" stroke-opacity="0.75"/><line x1="51.84" y1="485.65" x2="59.04" y2="485.65"/><line x1="51.84" y1="427.18" x2="59.04" y2="427.18"/><line x1="51.84" y1="368.71" x2="59.04" y2="368.71"/><line x1="51.84" y1="310.24" x2="59.04" y2="310.24"/><line x1="51.84" y1="251.77" x2="59.04" y2="251.77"/><line x1="51.84" y1="193.30" x2="59.04" y2="193.30"/><line x1="51.84" y1="134.83" x2="59.04" y2="134.83"/><line x1="51.84" y1="76.36" x2="59.04" y2="76.36"/></g>
<g class="sans" font-size="9.6" fill="#000" text-anchor="middle"><text transform="translate(59.0 552.2) scale(0.9 1)">sty 01</text><text transform="translate(89.6 552.2) scale(0.9 1)">sty 11</text><text transform="translate(120.1 552.2) scale(0.9 1)">sty 21</text><text transform="translate(150.6 552.2) scale(0.9 1)">sty 31</text><text transform="translate(181.1 552.2) scale(0.9 1)">lut 10</text><text transform="translate(211.6 552.2) scale(0.9 1)">lut 20</text><text transform="translate(245.2 552.2) scale(0.9 1)">mar 03</text><text transform="translate(281.8 552.2) scale(0.9 1)">mar 15</text><text transform="translate(318.4 552.2) scale(0.9 1)">mar 27</text><text transform="translate(352.0 552.2) scale(0.9 1)">kwi 07</text><text transform="translate(385.5 552.2) scale(0.9 1)">kwi 18</text><text transform="translate(419.1 552.2) scale(0.9 1)">kwi 29</text><text transform="translate(452.7 552.2) scale(0.9 1)">maj 10</text><text transform="translate(486.2 552.2) scale(0.9 1)">maj 21</text><text transform="translate(519.8 552.2) scale(0.9 1)">cze 01</text><text transform="translate(553.4 552.2) scale(0.9 1)">cze 12</text><text transform="translate(586.9 552.2) scale(0.9 1)">cze 23</text><text transform="translate(617.5 552.2) scale(0.9 1)">lip 03</text><text transform="translate(648.0 552.2) scale(0.9 1)">lip 13</text><text transform="translate(678.5 552.2) scale(0.9 1)">lip 23</text><text transform="translate(709.0 552.2) scale(0.9 1)">sie 02</text><text transform="translate(739.5 552.2) scale(0.9 1)">sie 12</text><text transform="translate(770.0 552.2) scale(0.9 1)">sie 22</text><text transform="translate(803.6 552.2) scale(0.9 1)">wrz 02</text><text transform="translate(837.2 552.2) scale(0.9 1)">wrz 13</text><text transform="translate(870.7 552.2) scale(0.9 1)">wrz 24</text><text transform="translate(904.3 552.2) scale(0.9 1)">paź 05</text><text transform="translate(937.9 552.2) scale(0.9 1)">paź 16</text><text transform="translate(971.4 552.2) scale(0.9 1)">paź 27</text><text transform="translate(1001.9 552.2) scale(0.9 1)">lis 06</text><text transform="translate(1029.4 552.2) scale(0.9 1)">lis 15</text><text transform="translate(1056.9 552.2) scale(0.9 1)">lis 24</text><text transform="translate(1087.4 552.2) scale(0.9 1)">gru 04</text><text transform="translate(1120.9 552.2) scale(0.9 1)">gru 15</text><text transform="translate(1154.5 552.2) scale(0.9 1)">gru 26</text></g>
<g class="sans" font-size="10.2" fill="#000" text-anchor="middle"><text transform="translate(41.9 486.0) rotate(-90) scale(0.88 1)">-25</text><text transform="translate(41.9 427.5) rotate(-90) scale(0.88 1)">-20</text><text transform="translate(41.9 369.0) rotate(-90) scale(0.88 1)">-15</text><text transform="translate(41.9 310.5) rotate(-90) scale(0.88 1)">-10</text><text transform="translate(41.9 252.1) rotate(-90) scale(0.88 1)">-5</text><text transform="translate(41.9 193.6) rotate(-90) scale(0.88 1)">0</text><text transform="translate(41.9 135.1) rotate(-90) scale(0.88 1)">5</text><text transform="translate(41.9 76.7) rotate(-90) scale(0.88 1)">10</text></g>
<text class="sans" font-size="12" text-anchor="middle" transform="translate(13.7 292.8) rotate(-90) scale(1.02 1)">Temperatura</text>
<text class="sans" font-size="12" text-anchor="middle" transform="translate(614.3 580.7) scale(1.04 1)">Data</text>
<text class="mono" font-size="15.6" letter-spacing="0.64" x="58.4" y="18.7" fill="#111">Przebieg temperatury w roku 2026</text>
<text class="mono" font-size="15.6" letter-spacing="0.64" x="58.4" y="40.3" fill="#111">Region: Morze Barentsa</text>
<text class="mono" font-size="15.6" letter-spacing="0.64" x="1175.2" y="18.7" text-anchor="end" fill="#111">Dane: Reanaliza ERA5 (ECMWF)</text>
<text class="mono m3" font-size="9.4" letter-spacing="0.36" x="1159.4" y="36.8" text-anchor="end" fill="#333">Wizualizacja: Meteomodel.pl</text>
<text class="mono m2" font-size="10.9" letter-spacing="0.45" x="613.9" y="53.2" text-anchor="middle" fill="#111">Ostatnie dane: 2026-01-10 (-3.6°C, anomalia (1981-2010): 6.4°C)</text>
<line x1="97.25" y1="79.00" x2="151.30" y2="79.00" stroke="#000" stroke-width="2.5" stroke-linecap="round"/><text class="sans" font-size="10.9" transform="translate(162.4 83.10) scale(1.135 1)" fill="#000">2022</text>
<line x1="97.25" y1="93.40" x2="151.30" y2="93.40" stroke="#3c3cff" stroke-width="1" stroke-linecap="round"/><text class="sans" font-size="10.9" transform="translate(162.4 97.50) scale(1.135 1)" fill="#000">1981-1990</text>
<line x1="97.25" y1="107.80" x2="151.30" y2="107.80" stroke="#449048" stroke-width="1" stroke-linecap="round"/><text class="sans" font-size="10.9" transform="translate(162.4 111.90) scale(1.135 1)" fill="#000">1991-2000</text>
<line x1="97.25" y1="122.20" x2="151.30" y2="122.20" stroke="#f7d640" stroke-width="1" stroke-linecap="round"/><text class="sans" font-size="10.9" transform="translate(162.4 126.30) scale(1.135 1)" fill="#000">2001-2010</text>
<line x1="97.25" y1="136.60" x2="151.30" y2="136.60" stroke="#f03838" stroke-width="1" stroke-linecap="round"/><text class="sans" font-size="10.9" transform="translate(162.4 140.70) scale(1.135 1)" fill="#000">2011-2020</text>
<line x1="97.25" y1="151.00" x2="151.30" y2="151.00" stroke="#ff2020" stroke-width="1.6" stroke-linecap="round" stroke-dasharray="6 6"/><text class="sans" font-size="10.9" transform="translate(162.4 155.10) scale(1.135 1)" fill="#000">1991-2020</text>
<line x1="97.25" y1="165.40" x2="151.30" y2="165.40" stroke="#1010ff" stroke-width="1.6" stroke-linecap="round" stroke-dasharray="6 6"/><text class="sans" font-size="10.9" transform="translate(162.4 169.50) scale(1.135 1)" fill="#000">1951-1980</text>
<line x1="97.25" y1="179.80" x2="150.30" y2="179.80" stroke="#e6e6e6" stroke-width="4.6" stroke-linecap="round"/><text class="sans" font-size="10.9" transform="translate(162.4 183.90) scale(1.135 1)" fill="#000">max-min 1950-2021</text>
</svg></body></html>
